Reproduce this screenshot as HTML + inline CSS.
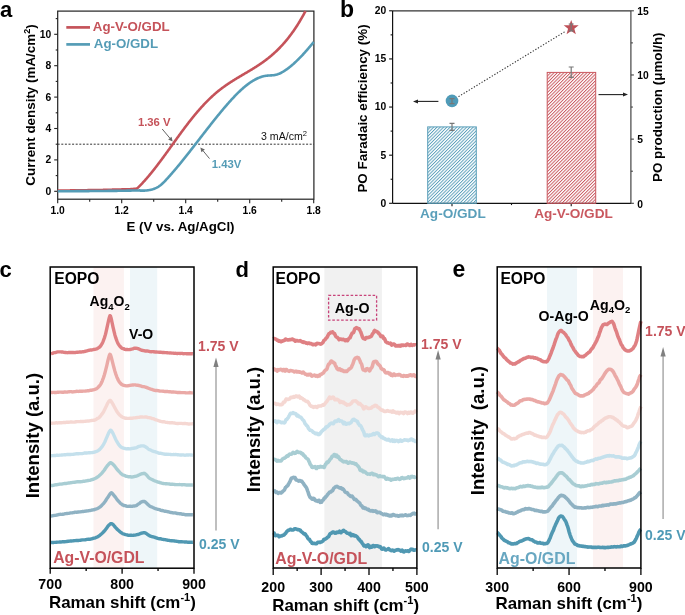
<!DOCTYPE html>
<html><head><meta charset="utf-8"><style>
html,body{margin:0;padding:0;background:#fff;width:685px;height:615px;overflow:hidden}
svg{display:block;will-change:transform}
text{font-family:"Liberation Sans",sans-serif}
</style></head><body>
<svg width="685" height="615" viewBox="0 0 685 615">
<rect width="685" height="615" fill="#fff"/>
<text x="-0.5" y="277" font-size="22" font-weight="bold" fill="#000" text-anchor="start" >c</text>
<rect x="93.5" y="267.0" width="30.4" height="301.20000000000005" fill="#fcf2f1"/>
<rect x="130" y="267.0" width="27.2" height="301.20000000000005" fill="#eef6f9"/>
<path d="M50.90,354.09 L51.40,353.76 L51.90,353.55 L52.40,353.33 L52.90,353.14 L53.40,352.92 L53.90,352.71 L54.40,352.67 L54.90,352.64 L55.40,352.65 L55.90,352.47 L56.40,352.27 L56.90,352.06 L57.40,351.94 L57.90,351.87 L58.40,351.85 L58.90,351.87 L59.40,351.87 L59.90,351.87 L60.40,351.86 L60.90,351.90 L61.40,351.95 L61.90,351.97 L62.40,351.99 L62.90,352.09 L63.40,352.23 L63.90,352.36 L64.40,352.41 L64.90,352.45 L65.40,352.49 L65.90,352.53 L66.40,352.60 L66.90,352.65 L67.40,352.69 L67.90,352.62 L68.40,352.55 L68.90,352.45 L69.40,352.46 L69.90,352.42 L70.40,352.46 L70.90,352.49 L71.40,352.51 L71.90,352.48 L72.40,352.43 L72.90,352.46 L73.40,352.52 L73.90,352.58 L74.40,352.57 L74.90,352.53 L75.40,352.45 L75.90,352.37 L76.40,352.32 L76.90,352.32 L77.40,352.30 L77.90,352.24 L78.40,352.13 L78.90,352.07 L79.40,352.03 L79.90,352.05 L80.40,352.03 L80.90,351.97 L81.40,351.94 L81.90,351.88 L82.40,351.84 L82.90,351.72 L83.40,351.71 L83.90,351.65 L84.40,351.55 L84.90,351.35 L85.40,351.21 L85.90,351.13 L86.40,351.04 L86.90,350.92 L87.40,350.71 L87.90,350.59 L88.40,350.44 L88.90,350.37 L89.40,350.18 L89.90,350.05 L90.40,349.94 L90.90,349.97 L91.40,349.96 L91.90,349.93 L92.40,349.83 L92.90,349.71 L93.40,349.55 L93.90,349.47 L94.40,349.39 L94.90,349.33 L95.40,349.17 L95.90,349.04 L96.40,348.91 L96.90,348.76 L97.40,348.50 L97.90,348.16 L98.40,347.85 L98.90,347.58 L99.40,347.28 L99.90,346.81 L100.40,346.21 L100.90,345.50 L101.40,344.76 L101.90,343.90 L102.40,342.95 L102.90,341.83 L103.40,340.63 L103.90,339.28 L104.40,337.87 L104.90,336.31 L105.40,334.63 L105.90,332.64 L106.40,330.47 L106.90,328.11 L107.40,325.82 L107.90,323.49 L108.40,321.27 L108.90,319.10 L109.40,317.21 L109.90,315.70 L110.40,315.88 L110.90,317.44 L111.40,319.48 L111.90,321.81 L112.40,324.19 L112.90,326.55 L113.40,328.74 L113.90,330.90 L114.40,332.94 L114.90,334.91 L115.40,336.64 L115.90,338.20 L116.40,339.53 L116.90,340.85 L117.40,342.07 L117.90,343.21 L118.40,344.14 L118.90,344.93 L119.40,345.60 L119.90,346.21 L120.40,346.74 L120.90,347.28 L121.40,347.77 L121.90,348.19 L122.40,348.40 L122.90,348.53 L123.40,348.66 L123.90,348.89 L124.40,349.14 L124.90,349.34 L125.40,349.46 L125.90,349.53 L126.40,349.55 L126.90,349.56 L127.40,349.56 L127.90,349.61 L128.40,349.66 L128.90,349.65 L129.40,349.59 L129.90,349.52 L130.40,349.45 L130.90,349.35 L131.40,349.21 L131.90,349.06 L132.40,348.95 L132.90,348.78 L133.40,348.60 L133.90,348.35 L134.40,348.24 L134.90,348.15 L135.40,348.18 L135.90,348.22 L136.40,348.30 L136.90,348.40 L137.40,348.49 L137.90,348.62 L138.40,348.75 L138.90,348.93 L139.40,349.18 L139.90,349.45 L140.40,349.79 L140.90,350.03 L141.40,350.22 L141.90,350.28 L142.40,350.38 L142.90,350.47 L143.40,350.58 L143.90,350.65 L144.40,350.77 L144.90,350.86 L145.40,350.99 L145.90,351.01 L146.40,351.05 L146.90,351.03 L147.40,351.03 L147.90,351.07 L148.40,351.18 L148.90,351.33 L149.40,351.47 L149.90,351.58 L150.40,351.66 L150.90,351.72 L151.40,351.72 L151.90,351.67 L152.40,351.65 L152.90,351.63 L153.40,351.70 L153.90,351.75 L154.40,351.89 L154.90,351.96 L155.40,352.03 L155.90,352.02 L156.40,352.02 L156.90,352.05 L157.40,352.08 L157.90,352.14 L158.40,352.18 L158.90,352.21 L159.40,352.23 L159.90,352.20 L160.40,352.21 L160.90,352.20 L161.40,352.30 L161.90,352.42 L162.40,352.54 L162.90,352.57 L163.40,352.54 L163.90,352.54 L164.40,352.57 L164.90,352.62 L165.40,352.64 L165.90,352.63 L166.40,352.64 L166.90,352.70 L167.40,352.76 L167.90,352.82 L168.40,352.86 L168.90,352.92 L169.40,352.94 L169.90,352.92 L170.40,352.92 L170.90,352.99 L171.40,353.09 L171.90,353.16 L172.40,353.13 L172.90,353.08 L173.40,353.11 L173.90,353.22 L174.40,353.33 L174.90,353.33 L175.40,353.31 L175.90,353.35 L176.40,353.39 L176.90,353.45 L177.40,353.42 L177.90,353.43 L178.40,353.38 L178.90,353.42 L179.40,353.41 L179.90,353.47 L180.40,353.44 L180.90,353.41 L181.40,353.36 L181.90,353.42 L182.40,353.52 L182.90,353.62 L183.40,353.68 L183.90,353.69 L184.40,353.67 L184.90,353.66 L185.40,353.66 L185.90,353.66 L186.40,353.68 L186.90,353.71 L187.40,353.72 L187.90,353.71 L188.40,353.72 L188.90,353.75 L189.40,353.79 L189.90,353.73 L190.40,353.71 L190.90,353.67 L191.40,353.68 L191.90,353.66 L192.40,353.71 L192.90,353.75" fill="none" stroke="#df8083" stroke-width="3.4" stroke-linejoin="round" stroke-linecap="butt"/>
<path d="M50.90,392.52 L51.40,392.57 L51.90,392.55 L52.40,392.47 L52.90,392.39 L53.40,392.37 L53.90,392.41 L54.40,392.50 L54.90,392.51 L55.40,392.55 L55.90,392.50 L56.40,392.44 L56.90,392.31 L57.40,392.21 L57.90,392.19 L58.40,392.19 L58.90,392.18 L59.40,392.16 L59.90,392.15 L60.40,392.12 L60.90,392.10 L61.40,392.12 L61.90,392.20 L62.40,392.26 L62.90,392.30 L63.40,392.26 L63.90,392.14 L64.40,392.01 L64.90,391.97 L65.40,392.03 L65.90,392.10 L66.40,392.10 L66.90,392.06 L67.40,391.98 L67.90,391.94 L68.40,391.86 L68.90,391.78 L69.40,391.69 L69.90,391.64 L70.40,391.63 L70.90,391.65 L71.40,391.69 L71.90,391.80 L72.40,391.88 L72.90,391.94 L73.40,391.86 L73.90,391.76 L74.40,391.67 L74.90,391.64 L75.40,391.59 L75.90,391.49 L76.40,391.38 L76.90,391.29 L77.40,391.36 L77.90,391.40 L78.40,391.43 L78.90,391.36 L79.40,391.31 L79.90,391.30 L80.40,391.29 L80.90,391.31 L81.40,391.30 L81.90,391.26 L82.40,391.21 L82.90,391.15 L83.40,391.13 L83.90,391.08 L84.40,391.12 L84.90,391.13 L85.40,391.11 L85.90,390.99 L86.40,390.88 L86.90,390.83 L87.40,390.80 L87.90,390.80 L88.40,390.75 L88.90,390.71 L89.40,390.54 L89.90,390.38 L90.40,390.26 L90.90,390.26 L91.40,390.26 L91.90,390.15 L92.40,390.02 L92.90,389.89 L93.40,389.81 L93.90,389.69 L94.40,389.52 L94.90,389.38 L95.40,389.18 L95.90,388.98 L96.40,388.70 L96.90,388.42 L97.40,388.01 L97.90,387.55 L98.40,387.04 L98.90,386.52 L99.40,385.98 L99.90,385.34 L100.40,384.65 L100.90,383.82 L101.40,382.90 L101.90,381.76 L102.40,380.51 L102.90,379.17 L103.40,377.83 L103.90,376.39 L104.40,374.78 L104.90,373.00 L105.40,371.06 L105.90,369.10 L106.40,367.07 L106.90,365.04 L107.40,362.87 L107.90,360.70 L108.40,358.64 L108.90,356.84 L109.40,355.29 L109.90,354.19 L110.40,354.70 L110.90,356.09 L111.40,357.81 L111.90,359.69 L112.40,361.63 L112.90,363.62 L113.40,365.56 L113.90,367.49 L114.40,369.33 L114.90,371.18 L115.40,372.83 L115.90,374.38 L116.40,375.73 L116.90,377.07 L117.40,378.28 L117.90,379.39 L118.40,380.37 L118.90,381.22 L119.40,381.96 L119.90,382.60 L120.40,383.22 L120.90,383.78 L121.40,384.24 L121.90,384.57 L122.40,384.86 L122.90,385.09 L123.40,385.27 L123.90,385.37 L124.40,385.45 L124.90,385.55 L125.40,385.65 L125.90,385.76 L126.40,385.82 L126.90,385.88 L127.40,385.82 L127.90,385.78 L128.40,385.65 L128.90,385.57 L129.40,385.44 L129.90,385.39 L130.40,385.32 L130.90,385.23 L131.40,385.14 L131.90,385.06 L132.40,385.03 L132.90,385.00 L133.40,384.95 L133.90,384.91 L134.40,384.84 L134.90,384.85 L135.40,384.92 L135.90,385.08 L136.40,385.18 L136.90,385.23 L137.40,385.25 L137.90,385.29 L138.40,385.39 L138.90,385.51 L139.40,385.64 L139.90,385.73 L140.40,385.81 L140.90,385.95 L141.40,386.18 L141.90,386.43 L142.40,386.59 L142.90,386.58 L143.40,386.58 L143.90,386.62 L144.40,386.78 L144.90,386.95 L145.40,387.10 L145.90,387.26 L146.40,387.40 L146.90,387.60 L147.40,387.81 L147.90,388.06 L148.40,388.30 L148.90,388.47 L149.40,388.61 L149.90,388.77 L150.40,388.98 L150.90,389.17 L151.40,389.31 L151.90,389.45 L152.40,389.62 L152.90,389.78 L153.40,389.96 L153.90,390.12 L154.40,390.28 L154.90,390.37 L155.40,390.45 L155.90,390.51 L156.40,390.54 L156.90,390.56 L157.40,390.56 L157.90,390.67 L158.40,390.77 L158.90,390.90 L159.40,390.93 L159.90,391.01 L160.40,391.07 L160.90,391.14 L161.40,391.15 L161.90,391.14 L162.40,391.16 L162.90,391.20 L163.40,391.26 L163.90,391.36 L164.40,391.45 L164.90,391.51 L165.40,391.49 L165.90,391.51 L166.40,391.50 L166.90,391.52 L167.40,391.51 L167.90,391.56 L168.40,391.64 L168.90,391.72 L169.40,391.73 L169.90,391.74 L170.40,391.80 L170.90,391.92 L171.40,392.02 L171.90,392.06 L172.40,392.04 L172.90,392.01 L173.40,391.99 L173.90,392.03 L174.40,392.08 L174.90,392.13 L175.40,392.17 L175.90,392.24 L176.40,392.35 L176.90,392.43 L177.40,392.43 L177.90,392.44 L178.40,392.42 L178.90,392.46 L179.40,392.45 L179.90,392.54 L180.40,392.57 L180.90,392.63 L181.40,392.59 L181.90,392.61 L182.40,392.61 L182.90,392.63 L183.40,392.61 L183.90,392.58 L184.40,392.59 L184.90,392.65 L185.40,392.77 L185.90,392.84 L186.40,392.86 L186.90,392.84 L187.40,392.83 L187.90,392.90 L188.40,392.92 L188.90,392.81 L189.40,392.62 L189.90,392.55 L190.40,392.65 L190.90,392.81 L191.40,392.89 L191.90,392.89 L192.40,392.88 L192.90,392.86" fill="none" stroke="#eaa9a6" stroke-width="3.4" stroke-linejoin="round" stroke-linecap="butt"/>
<path d="M50.90,423.25 L51.40,423.26 L51.90,423.22 L52.40,423.16 L52.90,423.09 L53.40,423.08 L53.90,423.13 L54.40,423.18 L54.90,423.11 L55.40,422.94 L55.90,422.79 L56.40,422.79 L56.90,422.89 L57.40,422.95 L57.90,422.89 L58.40,422.80 L58.90,422.72 L59.40,422.74 L59.90,422.71 L60.40,422.73 L60.90,422.70 L61.40,422.73 L61.90,422.72 L62.40,422.68 L62.90,422.60 L63.40,422.51 L63.90,422.48 L64.40,422.49 L64.90,422.50 L65.40,422.47 L65.90,422.37 L66.40,422.27 L66.90,422.23 L67.40,422.23 L67.90,422.27 L68.40,422.26 L68.90,422.27 L69.40,422.19 L69.90,422.12 L70.40,422.05 L70.90,422.04 L71.40,422.04 L71.90,422.04 L72.40,422.10 L72.90,422.13 L73.40,422.15 L73.90,422.14 L74.40,422.12 L74.90,422.03 L75.40,421.88 L75.90,421.79 L76.40,421.69 L76.90,421.65 L77.40,421.58 L77.90,421.62 L78.40,421.61 L78.90,421.66 L79.40,421.63 L79.90,421.61 L80.40,421.55 L80.90,421.54 L81.40,421.55 L81.90,421.59 L82.40,421.56 L82.90,421.52 L83.40,421.46 L83.90,421.41 L84.40,421.39 L84.90,421.32 L85.40,421.31 L85.90,421.21 L86.40,421.14 L86.90,421.06 L87.40,421.06 L87.90,421.09 L88.40,421.06 L88.90,421.01 L89.40,420.90 L89.90,420.80 L90.40,420.68 L90.90,420.60 L91.40,420.54 L91.90,420.48 L92.40,420.42 L92.90,420.35 L93.40,420.30 L93.90,420.25 L94.40,420.20 L94.90,420.06 L95.40,419.83 L95.90,419.50 L96.40,419.16 L96.90,418.80 L97.40,418.48 L97.90,418.16 L98.40,417.92 L98.90,417.65 L99.40,417.28 L99.90,416.75 L100.40,416.10 L100.90,415.48 L101.40,414.81 L101.90,414.17 L102.40,413.47 L102.90,412.76 L103.40,412.00 L103.90,411.10 L104.40,410.10 L104.90,409.02 L105.40,408.00 L105.90,406.99 L106.40,405.97 L106.90,404.86 L107.40,403.80 L107.90,402.84 L108.40,402.06 L108.90,401.37 L109.40,400.77 L109.90,400.37 L110.40,400.49 L110.90,401.01 L111.40,401.70 L111.90,402.44 L112.40,403.25 L112.90,404.12 L113.40,405.11 L113.90,406.06 L114.40,406.98 L114.90,407.87 L115.40,408.74 L115.90,409.68 L116.40,410.61 L116.90,411.53 L117.40,412.30 L117.90,412.95 L118.40,413.52 L118.90,414.14 L119.40,414.72 L119.90,415.21 L120.40,415.61 L120.90,416.03 L121.40,416.48 L121.90,416.82 L122.40,417.12 L122.90,417.29 L123.40,417.50 L123.90,417.66 L124.40,417.91 L124.90,418.12 L125.40,418.23 L125.90,418.29 L126.40,418.29 L126.90,418.37 L127.40,418.38 L127.90,418.41 L128.40,418.41 L128.90,418.38 L129.40,418.35 L129.90,418.28 L130.40,418.25 L130.90,418.24 L131.40,418.26 L131.90,418.26 L132.40,418.20 L132.90,418.09 L133.40,417.97 L133.90,417.90 L134.40,417.87 L134.90,417.85 L135.40,417.79 L135.90,417.71 L136.40,417.62 L136.90,417.53 L137.40,417.47 L137.90,417.42 L138.40,417.39 L138.90,417.35 L139.40,417.23 L139.90,417.12 L140.40,416.99 L140.90,416.95 L141.40,416.91 L141.90,416.94 L142.40,417.00 L142.90,417.08 L143.40,417.14 L143.90,417.12 L144.40,417.09 L144.90,417.02 L145.40,416.96 L145.90,416.94 L146.40,417.02 L146.90,417.20 L147.40,417.37 L147.90,417.50 L148.40,417.57 L148.90,417.66 L149.40,417.69 L149.90,417.75 L150.40,417.82 L150.90,418.03 L151.40,418.27 L151.90,418.50 L152.40,418.60 L152.90,418.69 L153.40,418.79 L153.90,418.96 L154.40,419.15 L154.90,419.41 L155.40,419.66 L155.90,419.85 L156.40,419.95 L156.90,420.05 L157.40,420.24 L157.90,420.48 L158.40,420.68 L158.90,420.80 L159.40,420.96 L159.90,421.13 L160.40,421.31 L160.90,421.43 L161.40,421.54 L161.90,421.67 L162.40,421.74 L162.90,421.74 L163.40,421.70 L163.90,421.70 L164.40,421.84 L164.90,422.01 L165.40,422.20 L165.90,422.32 L166.40,422.38 L166.90,422.42 L167.40,422.46 L167.90,422.54 L168.40,422.59 L168.90,422.67 L169.40,422.74 L169.90,422.79 L170.40,422.83 L170.90,422.80 L171.40,422.81 L171.90,422.75 L172.40,422.78 L172.90,422.81 L173.40,422.90 L173.90,422.93 L174.40,423.00 L174.90,423.09 L175.40,423.24 L175.90,423.36 L176.40,423.42 L176.90,423.48 L177.40,423.50 L177.90,423.49 L178.40,423.43 L178.90,423.40 L179.40,423.42 L179.90,423.41 L180.40,423.37 L180.90,423.34 L181.40,423.35 L181.90,423.45 L182.40,423.56 L182.90,423.66 L183.40,423.62 L183.90,423.54 L184.40,423.46 L184.90,423.48 L185.40,423.54 L185.90,423.63 L186.40,423.67 L186.90,423.72 L187.40,423.79 L187.90,423.91 L188.40,424.00 L188.90,424.04 L189.40,423.98 L189.90,423.93 L190.40,423.86 L190.90,423.87 L191.40,423.83 L191.90,423.83 L192.40,423.78 L192.90,423.80" fill="none" stroke="#f5d7d2" stroke-width="3.4" stroke-linejoin="round" stroke-linecap="butt"/>
<path d="M50.90,455.79 L51.40,455.72 L51.90,455.63 L52.40,455.61 L52.90,455.60 L53.40,455.60 L53.90,455.54 L54.40,455.55 L54.90,455.56 L55.40,455.56 L55.90,455.43 L56.40,455.28 L56.90,455.21 L57.40,455.28 L57.90,455.37 L58.40,455.36 L58.90,455.27 L59.40,455.16 L59.90,455.10 L60.40,455.12 L60.90,455.10 L61.40,455.06 L61.90,454.95 L62.40,454.93 L62.90,454.90 L63.40,454.90 L63.90,454.81 L64.40,454.78 L64.90,454.77 L65.40,454.78 L65.90,454.71 L66.40,454.59 L66.90,454.53 L67.40,454.50 L67.90,454.50 L68.40,454.43 L68.90,454.44 L69.40,454.47 L69.90,454.51 L70.40,454.48 L70.90,454.46 L71.40,454.42 L71.90,454.41 L72.40,454.36 L72.90,454.36 L73.40,454.28 L73.90,454.22 L74.40,454.08 L74.90,453.99 L75.40,453.87 L75.90,453.82 L76.40,453.82 L76.90,453.80 L77.40,453.82 L77.90,453.79 L78.40,453.79 L78.90,453.71 L79.40,453.66 L79.90,453.61 L80.40,453.61 L80.90,453.61 L81.40,453.64 L81.90,453.65 L82.40,453.57 L82.90,453.45 L83.40,453.31 L83.90,453.18 L84.40,453.02 L84.90,452.90 L85.40,452.95 L85.90,453.04 L86.40,453.12 L86.90,453.03 L87.40,452.93 L87.90,452.83 L88.40,452.81 L88.90,452.76 L89.40,452.73 L89.90,452.70 L90.40,452.68 L90.90,452.67 L91.40,452.67 L91.90,452.62 L92.40,452.57 L92.90,452.44 L93.40,452.41 L93.90,452.26 L94.40,452.14 L94.90,451.92 L95.40,451.77 L95.90,451.61 L96.40,451.47 L96.90,451.25 L97.40,450.97 L97.90,450.66 L98.40,450.37 L98.90,450.06 L99.40,449.68 L99.90,449.20 L100.40,448.65 L100.90,448.05 L101.40,447.45 L101.90,446.82 L102.40,446.17 L102.90,445.37 L103.40,444.53 L103.90,443.63 L104.40,442.73 L104.90,441.71 L105.40,440.55 L105.90,439.38 L106.40,438.20 L106.90,437.07 L107.40,435.88 L107.90,434.69 L108.40,433.58 L108.90,432.54 L109.40,431.61 L109.90,430.80 L110.40,430.26 L110.90,430.28 L111.40,430.75 L111.90,431.48 L112.40,432.35 L112.90,433.34 L113.40,434.31 L113.90,435.36 L114.40,436.44 L114.90,437.61 L115.40,438.74 L115.90,439.75 L116.40,440.68 L116.90,441.52 L117.40,442.39 L117.90,443.23 L118.40,444.00 L118.90,444.74 L119.40,445.36 L119.90,446.01 L120.40,446.47 L120.90,446.95 L121.40,447.31 L121.90,447.59 L122.40,447.74 L122.90,447.87 L123.40,448.08 L123.90,448.30 L124.40,448.41 L124.90,448.49 L125.40,448.59 L125.90,448.76 L126.40,448.84 L126.90,448.85 L127.40,448.81 L127.90,448.78 L128.40,448.77 L128.90,448.78 L129.40,448.83 L129.90,448.85 L130.40,448.81 L130.90,448.71 L131.40,448.59 L131.90,448.47 L132.40,448.39 L132.90,448.31 L133.40,448.28 L133.90,448.22 L134.40,448.13 L134.90,448.02 L135.40,447.90 L135.90,447.79 L136.40,447.63 L136.90,447.44 L137.40,447.16 L137.90,446.87 L138.40,446.60 L138.90,446.44 L139.40,446.32 L139.90,446.23 L140.40,446.07 L140.90,445.94 L141.40,445.88 L141.90,445.88 L142.40,445.87 L142.90,445.85 L143.40,445.89 L143.90,446.02 L144.40,446.25 L144.90,446.54 L145.40,446.84 L145.90,447.12 L146.40,447.38 L146.90,447.69 L147.40,448.11 L147.90,448.62 L148.40,449.09 L148.90,449.40 L149.40,449.59 L149.90,449.79 L150.40,450.01 L150.90,450.25 L151.40,450.44 L151.90,450.69 L152.40,450.92 L152.90,451.17 L153.40,451.33 L153.90,451.48 L154.40,451.59 L154.90,451.69 L155.40,451.85 L155.90,452.03 L156.40,452.20 L156.90,452.32 L157.40,452.50 L157.90,452.76 L158.40,453.03 L158.90,453.19 L159.40,453.22 L159.90,453.21 L160.40,453.27 L160.90,453.35 L161.40,453.47 L161.90,453.55 L162.40,453.69 L162.90,453.80 L163.40,453.92 L163.90,454.03 L164.40,454.14 L164.90,454.22 L165.40,454.28 L165.90,454.30 L166.40,454.30 L166.90,454.30 L167.40,454.31 L167.90,454.33 L168.40,454.32 L168.90,454.33 L169.40,454.36 L169.90,454.42 L170.40,454.50 L170.90,454.54 L171.40,454.58 L171.90,454.61 L172.40,454.61 L172.90,454.57 L173.40,454.52 L173.90,454.55 L174.40,454.61 L174.90,454.60 L175.40,454.54 L175.90,454.52 L176.40,454.60 L176.90,454.68 L177.40,454.78 L177.90,454.80 L178.40,454.82 L178.90,454.85 L179.40,454.92 L179.90,455.00 L180.40,455.01 L180.90,455.06 L181.40,455.05 L181.90,455.02 L182.40,454.92 L182.90,454.87 L183.40,454.92 L183.90,455.04 L184.40,455.15 L184.90,455.22 L185.40,455.19 L185.90,455.12 L186.40,455.02 L186.90,454.99 L187.40,455.03 L187.90,455.05 L188.40,455.03 L188.90,454.94 L189.40,454.92 L189.90,454.92 L190.40,454.98 L190.90,455.00 L191.40,455.06 L191.90,455.13 L192.40,455.18 L192.90,455.21" fill="none" stroke="#c4e0ec" stroke-width="3.4" stroke-linejoin="round" stroke-linecap="butt"/>
<path d="M50.90,485.44 L51.40,485.39 L51.90,485.47 L52.40,485.51 L52.90,485.48 L53.40,485.34 L53.90,485.18 L54.40,485.02 L54.90,484.89 L55.40,484.81 L55.90,484.82 L56.40,484.77 L56.90,484.71 L57.40,484.57 L57.90,484.50 L58.40,484.42 L58.90,484.29 L59.40,484.15 L59.90,484.07 L60.40,484.10 L60.90,484.15 L61.40,484.10 L61.90,484.02 L62.40,483.90 L62.90,483.83 L63.40,483.71 L63.90,483.60 L64.40,483.55 L64.90,483.54 L65.40,483.53 L65.90,483.50 L66.40,483.44 L66.90,483.33 L67.40,483.19 L67.90,483.09 L68.40,483.05 L68.90,483.02 L69.40,482.95 L69.90,482.86 L70.40,482.78 L70.90,482.74 L71.40,482.65 L71.90,482.57 L72.40,482.44 L72.90,482.37 L73.40,482.34 L73.90,482.32 L74.40,482.29 L74.90,482.21 L75.40,482.13 L75.90,482.02 L76.40,481.90 L76.90,481.78 L77.40,481.71 L77.90,481.70 L78.40,481.73 L78.90,481.76 L79.40,481.80 L79.90,481.80 L80.40,481.78 L80.90,481.71 L81.40,481.63 L81.90,481.56 L82.40,481.46 L82.90,481.36 L83.40,481.28 L83.90,481.25 L84.40,481.20 L84.90,481.15 L85.40,481.04 L85.90,480.96 L86.40,480.83 L86.90,480.76 L87.40,480.63 L87.90,480.54 L88.40,480.44 L88.90,480.43 L89.40,480.39 L89.90,480.31 L90.40,480.15 L90.90,479.96 L91.40,479.77 L91.90,479.61 L92.40,479.49 L92.90,479.38 L93.40,479.25 L93.90,479.02 L94.40,478.79 L94.90,478.49 L95.40,478.29 L95.90,478.07 L96.40,477.81 L96.90,477.44 L97.40,477.06 L97.90,476.73 L98.40,476.35 L98.90,475.93 L99.40,475.47 L99.90,475.06 L100.40,474.61 L100.90,474.17 L101.40,473.64 L101.90,473.12 L102.40,472.49 L102.90,471.86 L103.40,471.24 L103.90,470.65 L104.40,470.03 L104.90,469.27 L105.40,468.46 L105.90,467.67 L106.40,466.96 L106.90,466.29 L107.40,465.69 L107.90,465.08 L108.40,464.53 L108.90,463.97 L109.40,463.45 L109.90,463.00 L110.40,462.67 L110.90,462.69 L111.40,462.97 L111.90,463.36 L112.40,463.78 L112.90,464.24 L113.40,464.72 L113.90,465.22 L114.40,465.79 L114.90,466.42 L115.40,467.12 L115.90,467.79 L116.40,468.49 L116.90,469.16 L117.40,469.78 L117.90,470.30 L118.40,470.80 L118.90,471.33 L119.40,471.87 L119.90,472.42 L120.40,472.92 L120.90,473.39 L121.40,473.86 L121.90,474.30 L122.40,474.65 L122.90,474.91 L123.40,475.07 L123.90,475.26 L124.40,475.45 L124.90,475.67 L125.40,475.89 L125.90,476.10 L126.40,476.28 L126.90,476.41 L127.40,476.49 L127.90,476.59 L128.40,476.72 L128.90,476.81 L129.40,476.80 L129.90,476.73 L130.40,476.76 L130.90,476.86 L131.40,476.99 L131.90,477.00 L132.40,476.95 L132.90,476.86 L133.40,476.76 L133.90,476.66 L134.40,476.54 L134.90,476.44 L135.40,476.33 L135.90,476.22 L136.40,476.07 L136.90,475.94 L137.40,475.74 L137.90,475.51 L138.40,475.22 L138.90,475.00 L139.40,474.78 L139.90,474.52 L140.40,474.26 L140.90,474.04 L141.40,473.88 L141.90,473.75 L142.40,473.64 L142.90,473.56 L143.40,473.41 L143.90,473.29 L144.40,473.34 L144.90,473.62 L145.40,474.02 L145.90,474.41 L146.40,474.86 L146.90,475.40 L147.40,476.02 L147.90,476.65 L148.40,477.19 L148.90,477.70 L149.40,478.12 L149.90,478.51 L150.40,478.77 L150.90,479.02 L151.40,479.23 L151.90,479.45 L152.40,479.68 L152.90,479.91 L153.40,480.20 L153.90,480.48 L154.40,480.74 L154.90,480.92 L155.40,481.08 L155.90,481.25 L156.40,481.44 L156.90,481.67 L157.40,481.87 L157.90,482.04 L158.40,482.12 L158.90,482.26 L159.40,482.40 L159.90,482.64 L160.40,482.79 L160.90,482.94 L161.40,483.04 L161.90,483.21 L162.40,483.34 L162.90,483.46 L163.40,483.50 L163.90,483.57 L164.40,483.61 L164.90,483.66 L165.40,483.71 L165.90,483.73 L166.40,483.77 L166.90,483.80 L167.40,483.87 L167.90,483.91 L168.40,483.92 L168.90,483.93 L169.40,484.02 L169.90,484.13 L170.40,484.25 L170.90,484.29 L171.40,484.30 L171.90,484.26 L172.40,484.23 L172.90,484.26 L173.40,484.32 L173.90,484.41 L174.40,484.45 L174.90,484.52 L175.40,484.58 L175.90,484.66 L176.40,484.67 L176.90,484.66 L177.40,484.63 L177.90,484.63 L178.40,484.59 L178.90,484.59 L179.40,484.56 L179.90,484.62 L180.40,484.61 L180.90,484.67 L181.40,484.69 L181.90,484.72 L182.40,484.71 L182.90,484.70 L183.40,484.67 L183.90,484.67 L184.40,484.67 L184.90,484.76 L185.40,484.86 L185.90,484.94 L186.40,484.99 L186.90,484.99 L187.40,484.94 L187.90,484.94 L188.40,484.98 L188.90,485.05 L189.40,485.05 L189.90,485.04 L190.40,485.01 L190.90,485.02 L191.40,485.02 L191.90,484.99 L192.40,484.96 L192.90,484.94" fill="none" stroke="#a8cdd3" stroke-width="3.4" stroke-linejoin="round" stroke-linecap="butt"/>
<path d="M50.90,515.96 L51.40,515.94 L51.90,515.91 L52.40,515.83 L52.90,515.70 L53.40,515.59 L53.90,515.50 L54.40,515.42 L54.90,515.33 L55.40,515.33 L55.90,515.28 L56.40,515.18 L56.90,515.00 L57.40,514.85 L57.90,514.75 L58.40,514.63 L58.90,514.54 L59.40,514.41 L59.90,514.35 L60.40,514.31 L60.90,514.35 L61.40,514.38 L61.90,514.35 L62.40,514.28 L62.90,514.20 L63.40,514.18 L63.90,514.07 L64.40,513.96 L64.90,513.77 L65.40,513.69 L65.90,513.60 L66.40,513.57 L66.90,513.49 L67.40,513.44 L67.90,513.42 L68.40,513.42 L68.90,513.35 L69.40,513.22 L69.90,513.04 L70.40,512.93 L70.90,512.88 L71.40,512.91 L71.90,512.92 L72.40,512.83 L72.90,512.71 L73.40,512.58 L73.90,512.50 L74.40,512.36 L74.90,512.22 L75.40,512.13 L75.90,512.16 L76.40,512.20 L76.90,512.22 L77.40,512.11 L77.90,512.03 L78.40,511.96 L78.90,511.96 L79.40,511.90 L79.90,511.89 L80.40,511.85 L80.90,511.82 L81.40,511.71 L81.90,511.60 L82.40,511.54 L82.90,511.49 L83.40,511.48 L83.90,511.43 L84.40,511.39 L84.90,511.26 L85.40,511.15 L85.90,511.03 L86.40,510.98 L86.90,510.94 L87.40,510.90 L87.90,510.81 L88.40,510.71 L88.90,510.63 L89.40,510.57 L89.90,510.50 L90.40,510.45 L90.90,510.34 L91.40,510.20 L91.90,510.02 L92.40,509.97 L92.90,509.93 L93.40,509.90 L93.90,509.75 L94.40,509.60 L94.90,509.39 L95.40,509.22 L95.90,509.05 L96.40,508.92 L96.90,508.75 L97.40,508.55 L97.90,508.27 L98.40,507.97 L98.90,507.64 L99.40,507.34 L99.90,507.04 L100.40,506.66 L100.90,506.22 L101.40,505.69 L101.90,505.20 L102.40,504.67 L102.90,504.14 L103.40,503.57 L103.90,503.01 L104.40,502.41 L104.90,501.77 L105.40,501.06 L105.90,500.29 L106.40,499.45 L106.90,498.62 L107.40,497.86 L107.90,497.19 L108.40,496.48 L108.90,495.69 L109.40,494.86 L109.90,494.12 L110.40,493.49 L110.90,493.06 L111.40,492.79 L111.90,493.05 L112.40,493.48 L112.90,494.10 L113.40,494.74 L113.90,495.39 L114.40,495.96 L114.90,496.56 L115.40,497.16 L115.90,497.89 L116.40,498.61 L116.90,499.33 L117.40,499.95 L117.90,500.53 L118.40,501.06 L118.90,501.62 L119.40,502.18 L119.90,502.74 L120.40,503.22 L120.90,503.62 L121.40,503.99 L121.90,504.35 L122.40,504.75 L122.90,505.10 L123.40,505.37 L123.90,505.50 L124.40,505.56 L124.90,505.63 L125.40,505.72 L125.90,505.87 L126.40,506.07 L126.90,506.25 L127.40,506.38 L127.90,506.37 L128.40,506.36 L128.90,506.30 L129.40,506.28 L129.90,506.25 L130.40,506.27 L130.90,506.31 L131.40,506.33 L131.90,506.28 L132.40,506.21 L132.90,506.13 L133.40,506.10 L133.90,506.02 L134.40,505.96 L134.90,505.86 L135.40,505.82 L135.90,505.71 L136.40,505.54 L136.90,505.23 L137.40,504.81 L137.90,504.36 L138.40,503.98 L138.90,503.73 L139.40,503.44 L139.90,503.05 L140.40,502.57 L140.90,502.20 L141.40,501.93 L141.90,501.76 L142.40,501.62 L142.90,501.51 L143.40,501.43 L143.90,501.42 L144.40,501.50 L144.90,501.76 L145.40,502.10 L145.90,502.54 L146.40,502.96 L146.90,503.46 L147.40,503.99 L147.90,504.48 L148.40,504.93 L148.90,505.32 L149.40,505.76 L149.90,506.13 L150.40,506.46 L150.90,506.66 L151.40,506.84 L151.90,507.01 L152.40,507.24 L152.90,507.50 L153.40,507.74 L153.90,507.99 L154.40,508.24 L154.90,508.46 L155.40,508.64 L155.90,508.75 L156.40,508.92 L156.90,509.04 L157.40,509.21 L157.90,509.31 L158.40,509.44 L158.90,509.52 L159.40,509.67 L159.90,509.85 L160.40,510.11 L160.90,510.32 L161.40,510.46 L161.90,510.51 L162.40,510.55 L162.90,510.63 L163.40,510.82 L163.90,511.01 L164.40,511.18 L164.90,511.29 L165.40,511.28 L165.90,511.30 L166.40,511.33 L166.90,511.49 L167.40,511.62 L167.90,511.72 L168.40,511.80 L168.90,511.91 L169.40,512.08 L169.90,512.28 L170.40,512.42 L170.90,512.52 L171.40,512.56 L171.90,512.67 L172.40,512.76 L172.90,512.88 L173.40,512.90 L173.90,512.94 L174.40,512.89 L174.90,512.86 L175.40,512.88 L175.90,513.05 L176.40,513.30 L176.90,513.46 L177.40,513.51 L177.90,513.52 L178.40,513.61 L178.90,513.67 L179.40,513.75 L179.90,513.69 L180.40,513.72 L180.90,513.76 L181.40,513.99 L181.90,514.11 L182.40,514.22 L182.90,514.19 L183.40,514.25 L183.90,514.33 L184.40,514.49 L184.90,514.66 L185.40,514.72 L185.90,514.71 L186.40,514.66 L186.90,514.69 L187.40,514.74 L187.90,514.77 L188.40,514.74 L188.90,514.71 L189.40,514.72 L189.90,514.76 L190.40,514.80 L190.90,514.80 L191.40,514.78 L191.90,514.76 L192.40,514.74 L192.90,514.75" fill="none" stroke="#8fb2c3" stroke-width="3.4" stroke-linejoin="round" stroke-linecap="butt"/>
<path d="M50.90,542.62 L51.40,542.55 L51.90,542.50 L52.40,542.50 L52.90,542.50 L53.40,542.46 L53.90,542.43 L54.40,542.38 L54.90,542.41 L55.40,542.34 L55.90,542.29 L56.40,542.22 L56.90,542.19 L57.40,542.14 L57.90,542.12 L58.40,542.08 L58.90,542.09 L59.40,542.05 L59.90,542.04 L60.40,542.02 L60.90,542.00 L61.40,541.95 L61.90,541.85 L62.40,541.77 L62.90,541.73 L63.40,541.72 L63.90,541.75 L64.40,541.76 L64.90,541.77 L65.40,541.68 L65.90,541.61 L66.40,541.52 L66.90,541.48 L67.40,541.35 L67.90,541.25 L68.40,541.20 L68.90,541.20 L69.40,541.15 L69.90,541.07 L70.40,541.05 L70.90,541.05 L71.40,541.03 L71.90,540.94 L72.40,540.89 L72.90,540.86 L73.40,540.80 L73.90,540.71 L74.40,540.62 L74.90,540.59 L75.40,540.58 L75.90,540.55 L76.40,540.52 L76.90,540.53 L77.40,540.56 L77.90,540.53 L78.40,540.49 L78.90,540.40 L79.40,540.39 L79.90,540.32 L80.40,540.29 L80.90,540.15 L81.40,540.04 L81.90,539.94 L82.40,539.90 L82.90,539.86 L83.40,539.85 L83.90,539.86 L84.40,539.87 L84.90,539.87 L85.40,539.78 L85.90,539.68 L86.40,539.52 L86.90,539.43 L87.40,539.34 L87.90,539.29 L88.40,539.23 L88.90,539.24 L89.40,539.31 L89.90,539.31 L90.40,539.19 L90.90,538.99 L91.40,538.88 L91.90,538.77 L92.40,538.63 L92.90,538.41 L93.40,538.23 L93.90,538.11 L94.40,538.08 L94.90,538.02 L95.40,537.81 L95.90,537.53 L96.40,537.25 L96.90,537.08 L97.40,536.88 L97.90,536.64 L98.40,536.33 L98.90,536.01 L99.40,535.61 L99.90,535.17 L100.40,534.71 L100.90,534.31 L101.40,533.93 L101.90,533.53 L102.40,533.09 L102.90,532.57 L103.40,532.04 L103.90,531.51 L104.40,531.00 L104.90,530.41 L105.40,529.76 L105.90,529.07 L106.40,528.41 L106.90,527.73 L107.40,527.02 L107.90,526.30 L108.40,525.66 L108.90,525.13 L109.40,524.68 L109.90,524.26 L110.40,523.87 L110.90,523.62 L111.40,523.64 L111.90,523.84 L112.40,524.09 L112.90,524.45 L113.40,524.89 L113.90,525.49 L114.40,526.12 L114.90,526.78 L115.40,527.31 L115.90,527.83 L116.40,528.40 L116.90,529.01 L117.40,529.55 L117.90,529.97 L118.40,530.34 L118.90,530.73 L119.40,531.18 L119.90,531.66 L120.40,532.08 L120.90,532.47 L121.40,532.75 L121.90,533.10 L122.40,533.44 L122.90,533.75 L123.40,533.96 L123.90,534.07 L124.40,534.22 L124.90,534.40 L125.40,534.56 L125.90,534.70 L126.40,534.80 L126.90,534.90 L127.40,534.99 L127.90,535.13 L128.40,535.30 L128.90,535.39 L129.40,535.36 L129.90,535.25 L130.40,535.17 L130.90,535.15 L131.40,535.22 L131.90,535.31 L132.40,535.38 L132.90,535.35 L133.40,535.25 L133.90,535.19 L134.40,535.14 L134.90,535.15 L135.40,535.05 L135.90,534.95 L136.40,534.76 L136.90,534.66 L137.40,534.54 L137.90,534.53 L138.40,534.42 L138.90,534.25 L139.40,533.94 L139.90,533.71 L140.40,533.53 L140.90,533.35 L141.40,533.16 L141.90,532.99 L142.40,532.95 L142.90,532.87 L143.40,532.81 L143.90,532.70 L144.40,532.70 L144.90,532.77 L145.40,532.98 L145.90,533.25 L146.40,533.58 L146.90,533.90 L147.40,534.28 L147.90,534.67 L148.40,535.03 L148.90,535.36 L149.40,535.63 L149.90,535.88 L150.40,536.10 L150.90,536.34 L151.40,536.54 L151.90,536.64 L152.40,536.70 L152.90,536.78 L153.40,536.92 L153.90,537.05 L154.40,537.18 L154.90,537.37 L155.40,537.56 L155.90,537.80 L156.40,537.95 L156.90,538.15 L157.40,538.26 L157.90,538.43 L158.40,538.57 L158.90,538.69 L159.40,538.72 L159.90,538.73 L160.40,538.74 L160.90,538.85 L161.40,539.00 L161.90,539.19 L162.40,539.35 L162.90,539.42 L163.40,539.46 L163.90,539.50 L164.40,539.57 L164.90,539.66 L165.40,539.71 L165.90,539.81 L166.40,539.88 L166.90,540.02 L167.40,540.13 L167.90,540.27 L168.40,540.34 L168.90,540.38 L169.40,540.44 L169.90,540.56 L170.40,540.67 L170.90,540.73 L171.40,540.78 L171.90,540.79 L172.40,540.83 L172.90,540.80 L173.40,540.88 L173.90,540.93 L174.40,541.05 L174.90,541.05 L175.40,541.08 L175.90,541.12 L176.40,541.27 L176.90,541.37 L177.40,541.43 L177.90,541.48 L178.40,541.60 L178.90,541.76 L179.40,541.80 L179.90,541.70 L180.40,541.62 L180.90,541.62 L181.40,541.72 L181.90,541.77 L182.40,541.81 L182.90,541.83 L183.40,541.85 L183.90,541.90 L184.40,541.96 L184.90,542.01 L185.40,542.01 L185.90,541.96 L186.40,541.95 L186.90,542.04 L187.40,542.18 L187.90,542.30 L188.40,542.31 L188.90,542.27 L189.40,542.21 L189.90,542.23 L190.40,542.25 L190.90,542.33 L191.40,542.32 L191.90,542.30 L192.40,542.24 L192.90,542.21" fill="none" stroke="#5098b2" stroke-width="3.4" stroke-linejoin="round" stroke-linecap="butt"/>
<rect x="50.2" y="267.0" width="143.8" height="301.20000000000005" fill="none" stroke="#000" stroke-width="1.5"/>
<line x1="50.20" y1="568.2" x2="50.20" y2="573.7" stroke="#000" stroke-width="1.3"/>
<text x="50.20" y="589.3" font-size="14.2" font-weight="bold" fill="#000" text-anchor="middle" >700</text>
<line x1="86.15" y1="568.2" x2="86.15" y2="571.0" stroke="#000" stroke-width="1.3"/>
<line x1="122.10" y1="568.2" x2="122.10" y2="573.7" stroke="#000" stroke-width="1.3"/>
<text x="122.10" y="589.3" font-size="14.2" font-weight="bold" fill="#000" text-anchor="middle" >800</text>
<line x1="158.05" y1="568.2" x2="158.05" y2="571.0" stroke="#000" stroke-width="1.3"/>
<line x1="194.00" y1="568.2" x2="194.00" y2="573.7" stroke="#000" stroke-width="1.3"/>
<text x="194.00" y="589.3" font-size="14.2" font-weight="bold" fill="#000" text-anchor="middle" >900</text>
<text x="122.4" y="608.2" font-size="16.9" font-weight="bold" text-anchor="middle">Raman shift (cm<tspan dy="-7" font-size="11">-1</tspan><tspan dy="7">)</tspan></text>
<text x="54.3" y="283.9" font-size="15.6" font-weight="bold" fill="#000" text-anchor="start" >EOPO</text>
<text x="89.6" y="306" font-size="14" font-weight="bold">Ag<tspan dy="3.5" font-size="9.5">4</tspan><tspan dy="-3.5">O</tspan><tspan dy="3.5" font-size="9.5">2</tspan></text>
<text x="129.1" y="338.8" font-size="14" font-weight="bold" fill="#000" text-anchor="start" >V-O</text>
<text x="53.2" y="562.8" font-size="15.8" font-weight="bold" fill="#c5525a" text-anchor="start" >Ag-V-O/GDL</text>
<text transform="translate(38.9,435.6) rotate(-90)" font-size="18.5" font-weight="bold" text-anchor="middle">Intensity (a.u.)</text>
<line x1="216.0" y1="365.6" x2="216.0" y2="530.4" stroke="#aaa" stroke-width="1.5"/>
<path d="M216.0,357.6 L213.4,367.1 L218.6,367.1 Z" fill="#808080"/>
<text x="198.1" y="350.8" font-size="14" font-weight="bold" fill="#c5525a" text-anchor="start" >1.75 V</text>
<text x="199" y="548.8" font-size="14" font-weight="bold" fill="#4f9ab6" text-anchor="start" >0.25 V</text>
<text x="235.5" y="276.8" font-size="22" font-weight="bold" fill="#000" text-anchor="start" >d</text>
<rect x="324.4" y="267.0" width="57.5" height="301.0" fill="#f1f1f1"/>
<path d="M273.60,339.08 L274.10,338.58 L274.60,338.46 L275.10,338.92 L275.60,338.99 L276.10,339.26 L276.60,339.62 L277.10,340.18 L277.60,340.30 L278.10,340.35 L278.60,341.18 L279.10,341.15 L279.60,340.77 L280.10,341.07 L280.60,341.60 L281.10,341.65 L281.60,341.14 L282.10,341.13 L282.60,341.17 L283.10,340.96 L283.60,340.69 L284.10,340.60 L284.60,340.39 L285.10,339.42 L285.60,339.10 L286.10,339.44 L286.60,339.57 L287.10,339.76 L287.60,339.89 L288.10,339.86 L288.60,339.98 L289.10,339.80 L289.60,339.53 L290.10,339.71 L290.60,339.72 L291.10,339.43 L291.60,339.32 L292.10,339.14 L292.60,339.16 L293.10,339.59 L293.60,339.87 L294.10,339.82 L294.60,340.29 L295.10,341.18 L295.60,341.14 L296.10,340.54 L296.60,340.45 L297.10,340.71 L297.60,340.80 L298.10,340.91 L298.60,341.06 L299.10,341.00 L299.60,340.75 L300.10,340.60 L300.60,340.83 L301.10,341.25 L301.60,341.69 L302.10,341.82 L302.60,342.11 L303.10,342.32 L303.60,341.92 L304.10,342.03 L304.60,342.51 L305.10,342.50 L305.60,342.50 L306.10,343.10 L306.60,343.13 L307.10,343.24 L307.60,343.57 L308.10,343.09 L308.60,342.96 L309.10,343.02 L309.60,343.39 L310.10,343.67 L310.60,343.52 L311.10,343.59 L311.60,343.84 L312.10,344.12 L312.60,344.71 L313.10,344.75 L313.60,344.40 L314.10,344.34 L314.60,344.47 L315.10,344.62 L315.60,344.83 L316.10,344.63 L316.60,343.52 L317.10,343.22 L317.60,343.63 L318.10,343.51 L318.60,343.47 L319.10,343.58 L319.60,343.66 L320.10,343.93 L320.60,344.10 L321.10,344.04 L321.60,343.75 L322.10,343.30 L322.60,342.82 L323.10,342.23 L323.60,341.11 L324.10,340.24 L324.60,339.97 L325.10,339.70 L325.60,338.82 L326.10,338.21 L326.60,337.86 L327.10,337.25 L327.60,336.34 L328.10,335.16 L328.60,334.24 L329.10,333.44 L329.60,333.52 L330.10,333.23 L330.60,332.38 L331.10,332.41 L331.60,332.38 L332.10,331.90 L332.60,331.81 L333.10,332.48 L333.60,333.19 L334.10,333.25 L334.60,333.69 L335.10,335.04 L335.60,336.11 L336.10,336.77 L336.60,337.12 L337.10,337.23 L337.60,337.64 L338.10,338.16 L338.60,338.88 L339.10,339.68 L339.60,339.41 L340.10,339.14 L340.60,339.08 L341.10,339.00 L341.60,339.46 L342.10,339.65 L342.60,339.40 L343.10,339.24 L343.60,339.48 L344.10,339.62 L344.60,340.10 L345.10,340.74 L345.60,340.61 L346.10,339.86 L346.60,339.75 L347.10,340.60 L347.60,340.59 L348.10,339.70 L348.60,338.92 L349.10,338.19 L349.60,337.87 L350.10,337.74 L350.60,336.58 L351.10,335.24 L351.60,334.20 L352.10,333.19 L352.60,333.01 L353.10,332.86 L353.60,332.51 L354.10,331.12 L354.60,329.23 L355.10,328.41 L355.60,328.24 L356.10,327.82 L356.60,327.68 L357.10,328.03 L357.60,328.48 L358.10,328.76 L358.60,328.58 L359.10,328.75 L359.60,329.65 L360.10,330.75 L360.60,331.71 L361.10,332.97 L361.60,334.48 L362.10,335.91 L362.60,337.27 L363.10,338.29 L363.60,338.48 L364.10,338.45 L364.60,338.95 L365.10,339.09 L365.60,338.22 L366.10,337.64 L366.60,337.63 L367.10,337.68 L367.60,337.65 L368.10,337.55 L368.60,337.46 L369.10,337.17 L369.60,337.04 L370.10,336.91 L370.60,336.54 L371.10,336.45 L371.60,335.74 L372.10,334.65 L372.60,333.73 L373.10,333.13 L373.60,332.48 L374.10,331.13 L374.60,330.48 L375.10,331.02 L375.60,331.36 L376.10,331.24 L376.60,331.41 L377.10,331.81 L377.60,332.04 L378.10,332.39 L378.60,333.13 L379.10,333.86 L379.60,334.08 L380.10,334.88 L380.60,336.22 L381.10,336.67 L381.60,336.69 L382.10,336.39 L382.60,336.20 L383.10,336.90 L383.60,338.35 L384.10,339.05 L384.60,338.75 L385.10,339.71 L385.60,341.45 L386.10,342.01 L386.60,342.32 L387.10,342.65 L387.60,342.68 L388.10,342.74 L388.60,343.22 L389.10,343.41 L389.60,343.46 L390.10,343.72 L390.60,343.22 L391.10,343.99 L391.60,345.16 L392.10,344.87 L392.60,344.43 L393.10,344.24 L393.60,344.08 L394.10,344.15 L394.60,344.53 L395.10,345.31 L395.60,345.94 L396.10,346.07 L396.60,345.89 L397.10,345.55 L397.60,345.84 L398.10,346.06 L398.60,345.83 L399.10,345.38 L399.60,345.50 L400.10,346.09 L400.60,346.03 L401.10,345.41 L401.60,344.98 L402.10,345.11 L402.60,345.48 L403.10,345.47 L403.60,345.10 L404.10,345.21 L404.60,345.31 L405.10,345.21 L405.60,345.53 L406.10,345.56 L406.60,344.78 L407.10,344.00 L407.60,344.02 L408.10,344.60 L408.60,344.76 L409.10,344.95 L409.60,345.44 L410.10,345.40 L410.60,344.67 L411.10,344.41 L411.60,345.15 L412.10,345.36 L412.60,345.06 L413.10,344.92 L413.60,344.90 L414.10,345.07 L414.60,344.88 L415.10,344.77 L415.60,344.89 L416.10,345.19" fill="none" stroke="#df8083" stroke-width="3.6" stroke-linejoin="round"/>
<path d="M273.60,369.32 L274.10,368.88 L274.60,369.35 L275.10,369.99 L275.60,370.07 L276.10,369.87 L276.60,370.53 L277.10,371.07 L277.60,370.38 L278.10,369.61 L278.60,369.75 L279.10,369.94 L279.60,369.88 L280.10,369.58 L280.60,369.26 L281.10,369.57 L281.60,369.58 L282.10,369.70 L282.60,370.60 L283.10,370.61 L283.60,369.51 L284.10,369.73 L284.60,370.71 L285.10,371.14 L285.60,370.74 L286.10,369.63 L286.60,369.52 L287.10,370.26 L287.60,370.70 L288.10,370.75 L288.60,371.00 L289.10,371.37 L289.60,370.96 L290.10,370.50 L290.60,370.56 L291.10,370.64 L291.60,370.68 L292.10,370.87 L292.60,371.02 L293.10,371.08 L293.60,371.30 L294.10,371.90 L294.60,371.91 L295.10,371.22 L295.60,371.27 L296.10,371.38 L296.60,371.41 L297.10,371.99 L297.60,372.07 L298.10,371.59 L298.60,371.79 L299.10,372.20 L299.60,371.84 L300.10,371.95 L300.60,372.40 L301.10,372.26 L301.60,372.54 L302.10,373.05 L302.60,372.75 L303.10,372.08 L303.60,372.44 L304.10,373.02 L304.60,373.47 L305.10,374.07 L305.60,374.27 L306.10,374.24 L306.60,374.42 L307.10,375.00 L307.60,374.72 L308.10,374.38 L308.60,374.90 L309.10,374.99 L309.60,374.54 L310.10,374.16 L310.60,374.25 L311.10,374.90 L311.60,375.82 L312.10,376.09 L312.60,375.64 L313.10,375.60 L313.60,375.49 L314.10,375.17 L314.60,375.04 L315.10,375.50 L315.60,376.07 L316.10,375.87 L316.60,375.57 L317.10,375.90 L317.60,376.40 L318.10,376.12 L318.60,375.41 L319.10,375.55 L319.60,375.77 L320.10,374.85 L320.60,374.27 L321.10,374.36 L321.60,374.21 L322.10,373.80 L322.60,373.30 L323.10,373.01 L323.60,372.77 L324.10,371.76 L324.60,370.94 L325.10,370.54 L325.60,370.05 L326.10,369.66 L326.60,369.48 L327.10,368.46 L327.60,366.66 L328.10,365.31 L328.60,364.34 L329.10,364.19 L329.60,363.76 L330.10,362.72 L330.60,361.81 L331.10,361.16 L331.60,361.17 L332.10,361.98 L332.60,362.23 L333.10,362.01 L333.60,362.71 L334.10,362.90 L334.60,363.09 L335.10,364.59 L335.60,365.86 L336.10,366.57 L336.60,367.61 L337.10,368.72 L337.60,369.09 L338.10,369.49 L338.60,369.72 L339.10,369.13 L339.60,368.75 L340.10,369.14 L340.60,370.08 L341.10,370.31 L341.60,369.85 L342.10,370.32 L342.60,370.93 L343.10,370.62 L343.60,370.93 L344.10,371.54 L344.60,371.51 L345.10,371.16 L345.60,371.07 L346.10,371.36 L346.60,371.54 L347.10,371.09 L347.60,370.50 L348.10,370.19 L348.60,369.59 L349.10,368.96 L349.60,368.88 L350.10,368.72 L350.60,368.12 L351.10,367.76 L351.60,366.80 L352.10,365.44 L352.60,364.43 L353.10,363.35 L353.60,361.69 L354.10,360.08 L354.60,359.20 L355.10,358.49 L355.60,357.88 L356.10,357.76 L356.60,357.57 L357.10,357.37 L357.60,357.70 L358.10,357.71 L358.60,357.82 L359.10,359.06 L359.60,360.03 L360.10,361.01 L360.60,362.61 L361.10,363.37 L361.60,364.17 L362.10,366.14 L362.60,368.36 L363.10,369.68 L363.60,370.02 L364.10,369.92 L364.60,369.95 L365.10,370.59 L365.60,370.61 L366.10,369.78 L366.60,368.79 L367.10,368.67 L367.60,369.17 L368.10,368.97 L368.60,369.39 L369.10,370.43 L369.60,370.89 L370.10,369.88 L370.60,368.82 L371.10,368.26 L371.60,367.63 L372.10,366.90 L372.60,365.33 L373.10,363.30 L373.60,362.00 L374.10,361.65 L374.60,361.62 L375.10,361.61 L375.60,361.39 L376.10,361.40 L376.60,361.76 L377.10,362.58 L377.60,363.72 L378.10,364.12 L378.60,364.43 L379.10,365.10 L379.60,365.46 L380.10,366.01 L380.60,367.15 L381.10,368.41 L381.60,368.82 L382.10,369.14 L382.60,369.50 L383.10,369.59 L383.60,369.59 L384.10,370.03 L384.60,371.26 L385.10,372.08 L385.60,372.74 L386.10,372.95 L386.60,372.72 L387.10,372.70 L387.60,372.48 L388.10,372.50 L388.60,373.23 L389.10,373.78 L389.60,373.39 L390.10,373.26 L390.60,374.08 L391.10,375.24 L391.60,375.37 L392.10,375.35 L392.60,375.65 L393.10,374.86 L393.60,373.94 L394.10,374.03 L394.60,374.77 L395.10,375.33 L395.60,375.06 L396.10,374.97 L396.60,374.94 L397.10,374.88 L397.60,375.06 L398.10,374.92 L398.60,374.57 L399.10,374.43 L399.60,374.72 L400.10,374.79 L400.60,375.27 L401.10,375.82 L401.60,376.05 L402.10,376.07 L402.60,376.23 L403.10,376.35 L403.60,375.66 L404.10,375.60 L404.60,375.99 L405.10,375.74 L405.60,376.01 L406.10,376.23 L406.60,375.77 L407.10,375.70 L407.60,376.21 L408.10,376.08 L408.60,375.38 L409.10,375.25 L409.60,375.15 L410.10,374.93 L410.60,374.81 L411.10,375.13 L411.60,375.66 L412.10,375.81 L412.60,375.38 L413.10,375.05 L413.60,374.92 L414.10,374.89 L414.60,375.50 L415.10,376.14 L415.60,376.46 L416.10,376.36" fill="none" stroke="#eaa9a6" stroke-width="3.6" stroke-linejoin="round"/>
<path d="M273.60,403.27 L274.10,403.52 L274.60,403.37 L275.10,403.22 L275.60,403.76 L276.10,404.10 L276.60,404.49 L277.10,404.37 L277.60,404.01 L278.10,404.20 L278.60,404.29 L279.10,404.41 L279.60,404.81 L280.10,404.72 L280.60,404.57 L281.10,404.69 L281.60,404.62 L282.10,404.52 L282.60,404.05 L283.10,402.88 L283.60,401.98 L284.10,402.03 L284.60,402.05 L285.10,401.21 L285.60,399.91 L286.10,399.12 L286.60,399.01 L287.10,399.16 L287.60,399.43 L288.10,399.43 L288.60,399.17 L289.10,399.03 L289.60,398.92 L290.10,398.30 L290.60,397.64 L291.10,397.19 L291.60,397.33 L292.10,397.57 L292.60,397.54 L293.10,397.17 L293.60,396.55 L294.10,396.83 L294.60,397.07 L295.10,396.66 L295.60,396.18 L296.10,395.95 L296.60,396.03 L297.10,396.41 L297.60,396.87 L298.10,396.72 L298.60,396.43 L299.10,396.19 L299.60,396.94 L300.10,398.11 L300.60,397.90 L301.10,397.59 L301.60,397.95 L302.10,398.28 L302.60,398.54 L303.10,399.21 L303.60,399.80 L304.10,399.72 L304.60,399.98 L305.10,400.64 L305.60,400.93 L306.10,401.11 L306.60,401.51 L307.10,401.55 L307.60,401.43 L308.10,401.93 L308.60,402.73 L309.10,403.45 L309.60,404.56 L310.10,405.44 L310.60,405.63 L311.10,406.18 L311.60,406.45 L312.10,406.30 L312.60,406.51 L313.10,407.12 L313.60,407.33 L314.10,407.03 L314.60,406.94 L315.10,406.72 L315.60,406.49 L316.10,406.79 L316.60,407.36 L317.10,407.49 L317.60,406.55 L318.10,406.11 L318.60,406.27 L319.10,406.11 L319.60,406.00 L320.10,405.98 L320.60,405.97 L321.10,405.95 L321.60,405.67 L322.10,405.23 L322.60,404.93 L323.10,404.78 L323.60,405.23 L324.10,404.99 L324.60,404.01 L325.10,403.55 L325.60,402.86 L326.10,402.29 L326.60,401.79 L327.10,400.90 L327.60,400.16 L328.10,399.47 L328.60,398.68 L329.10,397.86 L329.60,397.09 L330.10,397.16 L330.60,398.35 L331.10,398.33 L331.60,397.72 L332.10,398.03 L332.60,397.97 L333.10,397.19 L333.60,397.40 L334.10,398.47 L334.60,399.35 L335.10,399.80 L335.60,399.65 L336.10,399.74 L336.60,399.47 L337.10,399.22 L337.60,399.80 L338.10,400.15 L338.60,400.00 L339.10,400.63 L339.60,401.91 L340.10,402.46 L340.60,402.14 L341.10,401.61 L341.60,401.60 L342.10,402.10 L342.60,402.64 L343.10,402.55 L343.60,402.21 L344.10,402.59 L344.60,403.49 L345.10,404.01 L345.60,403.80 L346.10,403.94 L346.60,404.71 L347.10,405.18 L347.60,404.78 L348.10,404.65 L348.60,404.81 L349.10,404.75 L349.60,404.61 L350.10,404.19 L350.60,403.86 L351.10,403.63 L351.60,403.09 L352.10,402.29 L352.60,401.56 L353.10,401.04 L353.60,401.11 L354.10,400.98 L354.60,400.92 L355.10,401.01 L355.60,400.83 L356.10,401.10 L356.60,401.82 L357.10,402.20 L357.60,402.41 L358.10,403.14 L358.60,403.96 L359.10,404.03 L359.60,403.48 L360.10,403.67 L360.60,404.42 L361.10,404.99 L361.60,405.17 L362.10,405.66 L362.60,406.47 L363.10,407.58 L363.60,408.87 L364.10,408.79 L364.60,407.77 L365.10,407.08 L365.60,406.82 L366.10,406.91 L366.60,407.58 L367.10,407.90 L367.60,408.06 L368.10,408.32 L368.60,408.48 L369.10,408.51 L369.60,408.32 L370.10,408.23 L370.60,408.11 L371.10,408.17 L371.60,407.80 L372.10,407.02 L372.60,406.58 L373.10,406.61 L373.60,406.47 L374.10,406.16 L374.60,405.51 L375.10,405.24 L375.60,405.62 L376.10,405.60 L376.60,405.74 L377.10,406.41 L377.60,406.95 L378.10,407.30 L378.60,407.52 L379.10,407.83 L379.60,408.56 L380.10,408.82 L380.60,409.26 L381.10,409.91 L381.60,410.18 L382.10,410.19 L382.60,410.17 L383.10,410.44 L383.60,411.05 L384.10,411.42 L384.60,411.28 L385.10,411.35 L385.60,411.44 L386.10,411.29 L386.60,411.10 L387.10,410.80 L387.60,410.62 L388.10,411.13 L388.60,411.27 L389.10,411.18 L389.60,411.38 L390.10,411.37 L390.60,411.25 L391.10,411.36 L391.60,411.95 L392.10,412.21 L392.60,411.61 L393.10,410.96 L393.60,411.42 L394.10,411.86 L394.60,412.30 L395.10,412.14 L395.60,412.20 L396.10,412.95 L396.60,412.91 L397.10,412.59 L397.60,412.30 L398.10,412.24 L398.60,413.06 L399.10,413.64 L399.60,412.74 L400.10,412.36 L400.60,412.45 L401.10,412.49 L401.60,412.73 L402.10,412.55 L402.60,412.49 L403.10,413.02 L403.60,413.59 L404.10,413.20 L404.60,412.16 L405.10,412.16 L405.60,412.49 L406.10,412.36 L406.60,412.48 L407.10,413.05 L407.60,413.64 L408.10,413.29 L408.60,412.40 L409.10,412.76 L409.60,413.15 L410.10,412.51 L410.60,412.14 L411.10,412.06 L411.60,412.35 L412.10,412.85 L412.60,413.30 L413.10,413.18 L413.60,412.25 L414.10,412.05 L414.60,412.02 L415.10,411.15 L415.60,411.34 L416.10,412.40" fill="none" stroke="#f5d7d2" stroke-width="3.6" stroke-linejoin="round"/>
<path d="M273.60,420.74 L274.10,421.30 L274.60,421.29 L275.10,420.77 L275.60,421.05 L276.10,421.75 L276.60,422.60 L277.10,422.69 L277.60,422.03 L278.10,421.36 L278.60,421.24 L279.10,421.53 L279.60,421.56 L280.10,421.78 L280.60,422.24 L281.10,422.60 L281.60,422.78 L282.10,422.56 L282.60,422.31 L283.10,422.40 L283.60,422.65 L284.10,422.87 L284.60,422.77 L285.10,422.01 L285.60,420.46 L286.10,419.48 L286.60,419.55 L287.10,419.11 L287.60,418.23 L288.10,417.73 L288.60,416.87 L289.10,415.93 L289.60,415.11 L290.10,413.95 L290.60,413.35 L291.10,413.26 L291.60,413.27 L292.10,413.47 L292.60,413.21 L293.10,412.56 L293.60,413.08 L294.10,413.49 L294.60,413.33 L295.10,413.62 L295.60,413.53 L296.10,413.99 L296.60,415.40 L297.10,415.83 L297.60,415.20 L298.10,415.43 L298.60,416.34 L299.10,416.61 L299.60,416.67 L300.10,417.01 L300.60,417.23 L301.10,417.55 L301.60,418.28 L302.10,418.96 L302.60,419.60 L303.10,420.02 L303.60,420.47 L304.10,421.34 L304.60,422.56 L305.10,423.68 L305.60,424.20 L306.10,424.74 L306.60,425.54 L307.10,425.96 L307.60,426.41 L308.10,427.59 L308.60,428.62 L309.10,429.14 L309.60,429.67 L310.10,430.25 L310.60,430.32 L311.10,430.26 L311.60,430.73 L312.10,431.06 L312.60,431.55 L313.10,432.24 L313.60,432.38 L314.10,432.51 L314.60,433.07 L315.10,433.63 L315.60,433.79 L316.10,433.69 L316.60,433.34 L317.10,433.49 L317.60,434.27 L318.10,434.60 L318.60,434.17 L319.10,434.14 L319.60,434.32 L320.10,433.61 L320.60,432.77 L321.10,432.23 L321.60,431.50 L322.10,430.97 L322.60,430.55 L323.10,430.14 L323.60,429.54 L324.10,429.10 L324.60,429.14 L325.10,428.75 L325.60,427.76 L326.10,426.93 L326.60,426.83 L327.10,426.89 L327.60,426.63 L328.10,426.09 L328.60,425.54 L329.10,425.09 L329.60,424.36 L330.10,423.89 L330.60,423.81 L331.10,423.29 L331.60,423.12 L332.10,423.38 L332.60,423.38 L333.10,423.71 L333.60,423.64 L334.10,422.52 L334.60,421.63 L335.10,421.00 L335.60,421.06 L336.10,421.51 L336.60,421.46 L337.10,421.11 L337.60,420.67 L338.10,419.90 L338.60,419.69 L339.10,420.59 L339.60,421.13 L340.10,420.99 L340.60,420.89 L341.10,421.04 L341.60,421.08 L342.10,421.43 L342.60,422.10 L343.10,423.00 L343.60,423.71 L344.10,423.17 L344.60,422.41 L345.10,422.92 L345.60,423.93 L346.10,424.31 L346.60,424.12 L347.10,423.70 L347.60,423.44 L348.10,423.36 L348.60,423.46 L349.10,423.76 L349.60,423.31 L350.10,422.78 L350.60,422.81 L351.10,422.54 L351.60,421.47 L352.10,420.68 L352.60,420.07 L353.10,419.51 L353.60,419.36 L354.10,419.40 L354.60,419.95 L355.10,420.39 L355.60,420.43 L356.10,420.61 L356.60,420.98 L357.10,421.14 L357.60,421.87 L358.10,423.13 L358.60,423.82 L359.10,424.58 L359.60,425.39 L360.10,425.63 L360.60,425.80 L361.10,426.53 L361.60,427.59 L362.10,428.86 L362.60,429.90 L363.10,430.72 L363.60,431.57 L364.10,433.06 L364.60,435.15 L365.10,435.61 L365.60,435.16 L366.10,435.58 L366.60,435.32 L367.10,434.87 L367.60,435.23 L368.10,435.68 L368.60,435.87 L369.10,435.61 L369.60,434.98 L370.10,434.93 L370.60,435.18 L371.10,435.09 L371.60,434.86 L372.10,434.77 L372.60,434.56 L373.10,433.68 L373.60,433.59 L374.10,434.34 L374.60,434.43 L375.10,433.95 L375.60,433.53 L376.10,433.07 L376.60,433.05 L377.10,432.99 L377.60,433.09 L378.10,433.33 L378.60,433.86 L379.10,434.68 L379.60,435.65 L380.10,436.06 L380.60,435.99 L381.10,436.65 L381.60,437.50 L382.10,437.38 L382.60,437.09 L383.10,437.90 L383.60,438.41 L384.10,438.41 L384.60,438.40 L385.10,438.73 L385.60,439.46 L386.10,439.61 L386.60,439.62 L387.10,440.01 L387.60,440.01 L388.10,439.47 L388.60,439.27 L389.10,439.84 L389.60,440.44 L390.10,440.80 L390.60,440.95 L391.10,440.84 L391.60,440.21 L392.10,439.95 L392.60,440.72 L393.10,441.38 L393.60,440.76 L394.10,440.22 L394.60,440.93 L395.10,441.40 L395.60,440.99 L396.10,440.42 L396.60,440.45 L397.10,440.57 L397.60,440.71 L398.10,441.25 L398.60,441.71 L399.10,441.31 L399.60,440.74 L400.10,440.24 L400.60,440.07 L401.10,440.71 L401.60,441.23 L402.10,441.05 L402.60,440.67 L403.10,440.56 L403.60,440.32 L404.10,439.98 L404.60,439.89 L405.10,439.87 L405.60,440.00 L406.10,440.20 L406.60,439.96 L407.10,439.97 L407.60,440.36 L408.10,440.59 L408.60,440.30 L409.10,440.01 L409.60,440.17 L410.10,439.89 L410.60,439.36 L411.10,439.24 L411.60,439.13 L412.10,439.41 L412.60,440.05 L413.10,440.38 L413.60,440.18 L414.10,440.42 L414.60,440.98 L415.10,441.40 L415.60,441.52 L416.10,441.23" fill="none" stroke="#c4e0ec" stroke-width="3.6" stroke-linejoin="round"/>
<path d="M273.60,459.18 L274.10,459.36 L274.60,459.28 L275.10,459.52 L275.60,459.86 L276.10,460.16 L276.60,460.83 L277.10,461.13 L277.60,460.69 L278.10,460.31 L278.60,460.72 L279.10,461.05 L279.60,461.04 L280.10,460.85 L280.60,460.93 L281.10,461.03 L281.60,460.32 L282.10,459.50 L282.60,458.83 L283.10,458.65 L283.60,458.41 L284.10,458.23 L284.60,458.01 L285.10,457.61 L285.60,457.40 L286.10,456.92 L286.60,456.12 L287.10,455.77 L287.60,456.19 L288.10,456.06 L288.60,455.19 L289.10,454.51 L289.60,454.12 L290.10,454.13 L290.60,454.18 L291.10,454.18 L291.60,454.08 L292.10,453.71 L292.60,452.86 L293.10,452.30 L293.60,452.55 L294.10,452.99 L294.60,453.41 L295.10,453.25 L295.60,453.09 L296.10,452.65 L296.60,451.77 L297.10,451.28 L297.60,451.75 L298.10,452.34 L298.60,452.41 L299.10,452.53 L299.60,452.36 L300.10,452.19 L300.60,452.50 L301.10,452.89 L301.60,453.60 L302.10,453.98 L302.60,453.67 L303.10,454.21 L303.60,455.30 L304.10,455.96 L304.60,455.90 L305.10,456.34 L305.60,457.52 L306.10,458.00 L306.60,458.13 L307.10,458.71 L307.60,458.99 L308.10,459.35 L308.60,460.66 L309.10,461.59 L309.60,462.62 L310.10,464.17 L310.60,464.70 L311.10,465.38 L311.60,466.73 L312.10,467.35 L312.60,467.44 L313.10,467.27 L313.60,466.90 L314.10,466.81 L314.60,466.71 L315.10,466.65 L315.60,467.44 L316.10,468.48 L316.60,468.56 L317.10,467.66 L317.60,466.70 L318.10,466.74 L318.60,467.19 L319.10,467.36 L319.60,467.02 L320.10,466.53 L320.60,466.36 L321.10,466.59 L321.60,466.99 L322.10,466.88 L322.60,466.68 L323.10,466.81 L323.60,467.33 L324.10,467.51 L324.60,466.68 L325.10,465.07 L325.60,464.16 L326.10,464.00 L326.60,462.83 L327.10,462.13 L327.60,462.59 L328.10,462.46 L328.60,461.59 L329.10,460.83 L329.60,460.14 L330.10,459.29 L330.60,458.80 L331.10,458.41 L331.60,457.31 L332.10,456.37 L332.60,456.09 L333.10,456.15 L333.60,455.61 L334.10,454.45 L334.60,454.49 L335.10,455.55 L335.60,456.42 L336.10,456.01 L336.60,455.05 L337.10,455.78 L337.60,457.18 L338.10,457.09 L338.60,456.82 L339.10,457.79 L339.60,458.97 L340.10,459.62 L340.60,459.55 L341.10,459.83 L341.60,460.45 L342.10,460.82 L342.60,461.32 L343.10,461.82 L343.60,461.86 L344.10,461.52 L344.60,461.44 L345.10,461.88 L345.60,461.85 L346.10,461.50 L346.60,461.73 L347.10,462.24 L347.60,462.71 L348.10,463.25 L348.60,463.21 L349.10,462.60 L349.60,462.24 L350.10,462.06 L350.60,462.54 L351.10,462.70 L351.60,462.96 L352.10,463.13 L352.60,462.87 L353.10,463.05 L353.60,463.04 L354.10,463.19 L354.60,463.86 L355.10,464.07 L355.60,463.72 L356.10,463.95 L356.60,464.69 L357.10,465.19 L357.60,465.69 L358.10,466.28 L358.60,466.83 L359.10,467.51 L359.60,468.62 L360.10,470.07 L360.60,470.41 L361.10,470.18 L361.60,470.09 L362.10,470.21 L362.60,471.34 L363.10,471.95 L363.60,471.42 L364.10,471.23 L364.60,471.81 L365.10,471.92 L365.60,472.36 L366.10,473.12 L366.60,473.22 L367.10,473.67 L367.60,474.10 L368.10,474.06 L368.60,474.00 L369.10,474.00 L369.60,474.15 L370.10,474.34 L370.60,473.94 L371.10,473.70 L371.60,473.45 L372.10,473.26 L372.60,473.38 L373.10,473.99 L373.60,474.81 L374.10,474.77 L374.60,474.28 L375.10,474.42 L375.60,474.76 L376.10,474.69 L376.60,475.15 L377.10,475.61 L377.60,475.72 L378.10,476.23 L378.60,476.76 L379.10,476.48 L379.60,475.81 L380.10,475.85 L380.60,476.40 L381.10,476.47 L381.60,476.43 L382.10,476.58 L382.60,476.74 L383.10,476.62 L383.60,476.47 L384.10,476.59 L384.60,477.11 L385.10,477.79 L385.60,478.49 L386.10,479.25 L386.60,479.25 L387.10,478.48 L387.60,478.31 L388.10,478.69 L388.60,478.75 L389.10,479.32 L389.60,479.46 L390.10,479.13 L390.60,479.63 L391.10,480.09 L391.60,479.87 L392.10,479.27 L392.60,479.36 L393.10,479.38 L393.60,479.30 L394.10,479.26 L394.60,479.14 L395.10,478.81 L395.60,478.78 L396.10,479.19 L396.60,478.96 L397.10,478.65 L397.60,478.24 L398.10,478.45 L398.60,478.88 L399.10,479.09 L399.60,479.36 L400.10,479.24 L400.60,478.94 L401.10,478.36 L401.60,477.78 L402.10,477.58 L402.60,477.72 L403.10,478.23 L403.60,478.59 L404.10,478.32 L404.60,478.15 L405.10,478.34 L405.60,478.18 L406.10,477.96 L406.60,477.93 L407.10,477.86 L407.60,477.43 L408.10,476.92 L408.60,476.90 L409.10,477.34 L409.60,478.15 L410.10,478.08 L410.60,477.01 L411.10,476.56 L411.60,476.44 L412.10,476.40 L412.60,476.98 L413.10,476.88 L413.60,476.77 L414.10,477.35 L414.60,477.47 L415.10,477.12 L415.60,476.66 L416.10,476.25" fill="none" stroke="#a8cdd3" stroke-width="3.6" stroke-linejoin="round"/>
<path d="M273.60,490.05 L274.10,490.44 L274.60,490.81 L275.10,491.18 L275.60,491.96 L276.10,492.54 L276.60,492.37 L277.10,492.12 L277.60,492.81 L278.10,493.33 L278.60,493.06 L279.10,492.89 L279.60,492.54 L280.10,492.44 L280.60,492.89 L281.10,492.94 L281.60,492.37 L282.10,492.09 L282.60,491.64 L283.10,490.86 L283.60,490.72 L284.10,490.41 L284.60,489.60 L285.10,488.35 L285.60,487.32 L286.10,487.09 L286.60,486.56 L287.10,485.93 L287.60,485.81 L288.10,485.00 L288.60,483.74 L289.10,483.06 L289.60,482.27 L290.10,481.17 L290.60,480.02 L291.10,478.80 L291.60,478.04 L292.10,477.97 L292.60,477.93 L293.10,477.56 L293.60,477.24 L294.10,477.52 L294.60,477.61 L295.10,477.63 L295.60,478.78 L296.10,480.04 L296.60,480.05 L297.10,480.14 L297.60,480.41 L298.10,480.70 L298.60,481.14 L299.10,480.96 L299.60,480.65 L300.10,480.61 L300.60,481.08 L301.10,481.08 L301.60,480.95 L302.10,481.55 L302.60,482.52 L303.10,482.98 L303.60,483.58 L304.10,484.68 L304.60,485.25 L305.10,485.89 L305.60,486.57 L306.10,487.32 L306.60,488.05 L307.10,489.45 L307.60,490.86 L308.10,492.09 L308.60,493.92 L309.10,495.25 L309.60,496.35 L310.10,497.29 L310.60,497.78 L311.10,498.00 L311.60,498.54 L312.10,499.25 L312.60,499.21 L313.10,498.47 L313.60,498.30 L314.10,498.55 L314.60,499.35 L315.10,500.28 L315.60,500.72 L316.10,500.85 L316.60,500.55 L317.10,500.91 L317.60,501.30 L318.10,500.74 L318.60,500.26 L319.10,500.32 L319.60,501.36 L320.10,502.26 L320.60,502.02 L321.10,502.08 L321.60,502.16 L322.10,501.04 L322.60,500.34 L323.10,500.32 L323.60,499.58 L324.10,498.19 L324.60,497.89 L325.10,497.93 L325.60,496.86 L326.10,496.40 L326.60,496.15 L327.10,495.32 L327.60,494.56 L328.10,494.01 L328.60,493.50 L329.10,492.83 L329.60,492.14 L330.10,491.96 L330.60,492.07 L331.10,491.95 L331.60,491.01 L332.10,490.70 L332.60,490.65 L333.10,489.65 L333.60,488.54 L334.10,488.00 L334.60,487.64 L335.10,487.08 L335.60,486.93 L336.10,486.69 L336.60,486.42 L337.10,486.34 L337.60,486.71 L338.10,487.21 L338.60,487.26 L339.10,487.65 L339.60,488.00 L340.10,488.12 L340.60,487.95 L341.10,487.74 L341.60,488.61 L342.10,489.04 L342.60,488.70 L343.10,489.12 L343.60,489.62 L344.10,490.27 L344.60,491.36 L345.10,491.94 L345.60,492.28 L346.10,492.50 L346.60,492.48 L347.10,492.63 L347.60,493.24 L348.10,494.14 L348.60,494.65 L349.10,494.99 L349.60,495.46 L350.10,495.85 L350.60,496.28 L351.10,496.47 L351.60,496.13 L352.10,496.14 L352.60,496.82 L353.10,497.49 L353.60,498.34 L354.10,499.12 L354.60,499.55 L355.10,499.37 L355.60,499.24 L356.10,499.74 L356.60,500.47 L357.10,501.01 L357.60,501.32 L358.10,501.78 L358.60,502.22 L359.10,502.42 L359.60,502.92 L360.10,503.92 L360.60,504.77 L361.10,505.55 L361.60,505.74 L362.10,506.04 L362.60,507.36 L363.10,507.87 L363.60,507.36 L364.10,507.57 L364.60,508.36 L365.10,508.25 L365.60,508.11 L366.10,508.77 L366.60,509.04 L367.10,509.37 L367.60,509.57 L368.10,509.25 L368.60,509.44 L369.10,510.27 L369.60,510.68 L370.10,510.68 L370.60,510.93 L371.10,511.02 L371.60,510.88 L372.10,510.48 L372.60,510.75 L373.10,511.27 L373.60,510.91 L374.10,510.96 L374.60,511.32 L375.10,511.25 L375.60,510.79 L376.10,511.21 L376.60,512.21 L377.10,512.60 L377.60,512.64 L378.10,512.39 L378.60,512.30 L379.10,512.54 L379.60,512.35 L380.10,512.43 L380.60,513.11 L381.10,513.45 L381.60,513.46 L382.10,513.76 L382.60,514.28 L383.10,514.36 L383.60,514.79 L384.10,514.52 L384.60,514.07 L385.10,514.43 L385.60,514.82 L386.10,514.62 L386.60,514.28 L387.10,514.72 L387.60,515.30 L388.10,515.41 L388.60,515.11 L389.10,515.51 L389.60,516.04 L390.10,515.80 L390.60,515.28 L391.10,515.24 L391.60,515.81 L392.10,515.62 L392.60,514.89 L393.10,514.44 L393.60,514.46 L394.10,514.93 L394.60,515.14 L395.10,515.45 L395.60,515.73 L396.10,515.50 L396.60,515.67 L397.10,515.66 L397.60,515.60 L398.10,516.27 L398.60,516.19 L399.10,515.82 L399.60,515.70 L400.10,515.38 L400.60,515.20 L401.10,515.69 L401.60,515.80 L402.10,515.17 L402.60,515.31 L403.10,515.76 L403.60,515.54 L404.10,515.36 L404.60,515.22 L405.10,514.88 L405.60,514.89 L406.10,515.05 L406.60,515.35 L407.10,515.59 L407.60,515.56 L408.10,515.55 L408.60,515.34 L409.10,515.07 L409.60,515.25 L410.10,515.43 L410.60,515.16 L411.10,514.62 L411.60,514.39 L412.10,513.96 L412.60,513.66 L413.10,513.72 L413.60,513.50 L414.10,513.16 L414.60,513.60 L415.10,514.04 L415.60,513.81 L416.10,513.99" fill="none" stroke="#8fb2c3" stroke-width="3.6" stroke-linejoin="round"/>
<path d="M273.60,533.21 L274.10,533.01 L274.60,534.39 L275.10,535.51 L275.60,535.68 L276.10,535.49 L276.60,535.27 L277.10,535.29 L277.60,535.23 L278.10,535.22 L278.60,536.00 L279.10,536.75 L279.60,536.56 L280.10,536.07 L280.60,536.06 L281.10,535.94 L281.60,536.02 L282.10,535.88 L282.60,535.35 L283.10,535.28 L283.60,535.26 L284.10,535.01 L284.60,534.29 L285.10,533.68 L285.60,533.27 L286.10,532.63 L286.60,531.83 L287.10,531.29 L287.60,530.88 L288.10,530.31 L288.60,530.27 L289.10,530.22 L289.60,529.76 L290.10,529.42 L290.60,529.24 L291.10,529.58 L291.60,529.90 L292.10,529.97 L292.60,529.92 L293.10,529.97 L293.60,529.71 L294.10,529.16 L294.60,528.86 L295.10,528.69 L295.60,528.68 L296.10,529.01 L296.60,529.32 L297.10,529.38 L297.60,529.66 L298.10,529.63 L298.60,529.53 L299.10,529.95 L299.60,530.21 L300.10,530.12 L300.60,530.63 L301.10,531.43 L301.60,531.80 L302.10,532.11 L302.60,532.52 L303.10,533.05 L303.60,533.58 L304.10,534.05 L304.60,534.16 L305.10,533.94 L305.60,534.52 L306.10,535.44 L306.60,535.98 L307.10,536.78 L307.60,537.82 L308.10,538.70 L308.60,539.07 L309.10,539.13 L309.60,539.61 L310.10,540.82 L310.60,541.58 L311.10,541.70 L311.60,542.41 L312.10,543.26 L312.60,543.50 L313.10,543.43 L313.60,543.22 L314.10,543.32 L314.60,543.45 L315.10,543.62 L315.60,543.71 L316.10,543.75 L316.60,543.72 L317.10,542.94 L317.60,542.39 L318.10,542.36 L318.60,542.30 L319.10,542.15 L319.60,542.38 L320.10,542.45 L320.60,542.11 L321.10,542.08 L321.60,542.03 L322.10,541.51 L322.60,541.25 L323.10,540.92 L323.60,539.69 L324.10,539.36 L324.60,539.48 L325.10,539.22 L325.60,538.89 L326.10,538.53 L326.60,538.37 L327.10,537.77 L327.60,537.11 L328.10,536.96 L328.60,536.68 L329.10,535.64 L329.60,534.58 L330.10,533.80 L330.60,533.46 L331.10,533.31 L331.60,533.07 L332.10,532.58 L332.60,532.22 L333.10,531.99 L333.60,531.99 L334.10,532.58 L334.60,533.05 L335.10,532.69 L335.60,532.64 L336.10,533.14 L336.60,532.79 L337.10,532.07 L337.60,532.17 L338.10,532.42 L338.60,532.42 L339.10,532.02 L339.60,531.25 L340.10,531.75 L340.60,532.68 L341.10,532.61 L341.60,531.69 L342.10,531.46 L342.60,531.43 L343.10,530.58 L343.60,530.29 L344.10,531.07 L344.60,531.48 L345.10,531.36 L345.60,531.73 L346.10,532.14 L346.60,532.76 L347.10,533.25 L347.60,533.31 L348.10,533.26 L348.60,533.58 L349.10,534.03 L349.60,533.56 L350.10,533.44 L350.60,534.78 L351.10,535.66 L351.60,534.85 L352.10,534.56 L352.60,535.44 L353.10,535.53 L353.60,534.98 L354.10,535.38 L354.60,535.91 L355.10,535.80 L355.60,535.67 L356.10,536.04 L356.60,536.44 L357.10,536.84 L357.60,537.38 L358.10,538.21 L358.60,539.05 L359.10,539.26 L359.60,539.80 L360.10,540.85 L360.60,541.18 L361.10,541.26 L361.60,542.15 L362.10,543.13 L362.60,543.66 L363.10,544.30 L363.60,545.36 L364.10,545.84 L364.60,545.61 L365.10,545.56 L365.60,546.13 L366.10,546.65 L366.60,546.41 L367.10,545.58 L367.60,544.92 L368.10,544.83 L368.60,545.59 L369.10,546.90 L369.60,547.51 L370.10,546.95 L370.60,546.28 L371.10,546.38 L371.60,547.12 L372.10,547.13 L372.60,546.37 L373.10,545.73 L373.60,545.49 L374.10,546.12 L374.60,546.63 L375.10,546.04 L375.60,545.72 L376.10,545.88 L376.60,546.08 L377.10,546.17 L377.60,545.91 L378.10,546.00 L378.60,546.41 L379.10,546.88 L379.60,546.91 L380.10,546.66 L380.60,547.03 L381.10,547.95 L381.60,548.97 L382.10,549.22 L382.60,548.91 L383.10,548.46 L383.60,548.08 L384.10,548.22 L384.60,548.98 L385.10,549.69 L385.60,550.01 L386.10,550.05 L386.60,549.55 L387.10,549.34 L387.60,549.30 L388.10,548.88 L388.60,548.59 L389.10,549.30 L389.60,549.89 L390.10,549.74 L390.60,550.27 L391.10,550.71 L391.60,550.42 L392.10,550.17 L392.60,550.13 L393.10,550.39 L393.60,550.84 L394.10,551.09 L394.60,550.83 L395.10,550.47 L395.60,550.29 L396.10,550.17 L396.60,549.71 L397.10,549.71 L397.60,549.87 L398.10,549.52 L398.60,549.75 L399.10,550.10 L399.60,550.23 L400.10,550.19 L400.60,550.81 L401.10,551.18 L401.60,550.55 L402.10,550.19 L402.60,550.46 L403.10,551.17 L403.60,551.79 L404.10,551.92 L404.60,551.24 L405.10,550.97 L405.60,550.86 L406.10,551.00 L406.60,551.19 L407.10,550.77 L407.60,550.94 L408.10,551.14 L408.60,551.51 L409.10,551.33 L409.60,550.54 L410.10,550.22 L410.60,549.57 L411.10,549.10 L411.60,549.29 L412.10,549.54 L412.60,549.40 L413.10,549.67 L413.60,550.15 L414.10,550.11 L414.60,550.14 L415.10,550.03 L415.60,549.92 L416.10,550.18" fill="none" stroke="#5098b2" stroke-width="3.6" stroke-linejoin="round"/>
<rect x="273.2" y="267.0" width="143.7" height="301.0" fill="none" stroke="#000" stroke-width="1.5"/>
<line x1="273.20" y1="568.0" x2="273.20" y2="575.0" stroke="#000" stroke-width="1.3"/>
<text x="273.20" y="591.8" font-size="14.2" font-weight="bold" fill="#000" text-anchor="middle" >200</text>
<line x1="297.15" y1="568.0" x2="297.15" y2="571.0" stroke="#000" stroke-width="1.3"/>
<line x1="321.10" y1="568.0" x2="321.10" y2="575.0" stroke="#000" stroke-width="1.3"/>
<text x="321.10" y="591.8" font-size="14.2" font-weight="bold" fill="#000" text-anchor="middle" >300</text>
<line x1="345.05" y1="568.0" x2="345.05" y2="571.0" stroke="#000" stroke-width="1.3"/>
<line x1="369.00" y1="568.0" x2="369.00" y2="575.0" stroke="#000" stroke-width="1.3"/>
<text x="369.00" y="591.8" font-size="14.2" font-weight="bold" fill="#000" text-anchor="middle" >400</text>
<line x1="392.95" y1="568.0" x2="392.95" y2="571.0" stroke="#000" stroke-width="1.3"/>
<line x1="416.90" y1="568.0" x2="416.90" y2="575.0" stroke="#000" stroke-width="1.3"/>
<text x="416.90" y="591.8" font-size="14.2" font-weight="bold" fill="#000" text-anchor="middle" >500</text>
<text x="345.6" y="610.6" font-size="16.9" font-weight="bold" text-anchor="middle">Raman shift (cm<tspan dy="-7" font-size="11">-1</tspan><tspan dy="7">)</tspan></text>
<text x="275.5" y="283.6" font-size="15.6" font-weight="bold" fill="#000" text-anchor="start" >EOPO</text>
<rect x="328.6" y="295.4" width="48" height="24.7" fill="none" stroke="#c8437a" stroke-width="1.3" stroke-dasharray="2.6,1.8"/>
<text x="334.8" y="312.5" font-size="14.2" font-weight="bold" fill="#000" text-anchor="start" >Ag-O</text>
<text x="275.3" y="564.2" font-size="15.9" font-weight="bold" fill="#c5525a" text-anchor="start" >Ag-V-O/GDL</text>
<text transform="translate(260,429.5) rotate(-90)" font-size="18.5" font-weight="bold" text-anchor="middle">Intensity (a.u.)</text>
<line x1="438.1" y1="358" x2="438.1" y2="529.2" stroke="#aaa" stroke-width="1.5"/>
<path d="M438.1,350 L435.5,359.5 L440.70000000000005,359.5 Z" fill="#808080"/>
<text x="421" y="349.2" font-size="14" font-weight="bold" fill="#c5525a" text-anchor="start" >1.75 V</text>
<text x="422" y="551.7" font-size="14" font-weight="bold" fill="#4f9ab6" text-anchor="start" >0.25 V</text>
<text x="452.6" y="276.6" font-size="23" font-weight="bold" fill="#000" text-anchor="start" >e</text>
<rect x="547" y="266.9" width="30" height="301.1" fill="#eef6f9"/>
<rect x="593" y="266.9" width="30" height="301.1" fill="#fcf2f1"/>
<path d="M497.00,348.11 L497.50,348.43 L498.00,348.92 L498.50,349.67 L499.00,350.12 L499.50,350.63 L500.00,351.66 L500.50,352.63 L501.00,353.36 L501.50,353.85 L502.00,354.31 L502.50,354.95 L503.00,355.70 L503.50,356.43 L504.00,357.04 L504.50,357.58 L505.00,357.89 L505.50,358.09 L506.00,358.78 L506.50,359.57 L507.00,360.00 L507.50,360.39 L508.00,360.86 L508.50,361.33 L509.00,361.63 L509.50,361.98 L510.00,362.63 L510.50,363.06 L511.00,363.08 L511.50,363.19 L512.00,363.50 L512.50,363.81 L513.00,364.09 L513.50,364.00 L514.00,363.73 L514.50,363.87 L515.00,364.03 L515.50,363.66 L516.00,363.21 L516.50,362.89 L517.00,362.63 L517.50,362.36 L518.00,361.97 L518.50,361.79 L519.00,361.65 L519.50,361.24 L520.00,360.72 L520.50,360.32 L521.00,360.09 L521.50,359.91 L522.00,359.66 L522.50,359.36 L523.00,359.05 L523.50,358.69 L524.00,358.48 L524.50,358.46 L525.00,358.30 L525.50,358.16 L526.00,357.95 L526.50,357.49 L527.00,357.20 L527.50,357.22 L528.00,357.16 L528.50,356.91 L529.00,356.93 L529.50,357.03 L530.00,356.97 L530.50,357.25 L531.00,357.53 L531.50,357.39 L532.00,357.23 L532.50,357.25 L533.00,357.37 L533.50,357.66 L534.00,358.02 L534.50,357.98 L535.00,357.73 L535.50,357.93 L536.00,358.30 L536.50,358.26 L537.00,358.24 L537.50,358.66 L538.00,359.04 L538.50,359.15 L539.00,359.36 L539.50,359.54 L540.00,359.56 L540.50,359.83 L541.00,360.49 L541.50,360.93 L542.00,360.88 L542.50,361.10 L543.00,361.50 L543.50,361.64 L544.00,361.79 L544.50,361.78 L545.00,361.62 L545.50,361.71 L546.00,361.84 L546.50,361.83 L547.00,361.49 L547.50,360.89 L548.00,360.10 L548.50,359.19 L549.00,358.22 L549.50,356.96 L550.00,355.72 L550.50,354.59 L551.00,353.35 L551.50,351.87 L552.00,350.41 L552.50,349.30 L553.00,348.00 L553.50,346.47 L554.00,345.07 L554.50,343.53 L555.00,341.97 L555.50,340.45 L556.00,339.04 L556.50,337.86 L557.00,336.54 L557.50,335.02 L558.00,333.71 L558.50,332.77 L559.00,332.06 L559.50,331.46 L560.00,330.95 L560.50,330.71 L561.00,330.52 L561.50,330.60 L562.00,331.15 L562.50,331.72 L563.00,332.09 L563.50,332.33 L564.00,332.82 L564.50,333.43 L565.00,333.82 L565.50,334.41 L566.00,335.30 L566.50,336.05 L567.00,336.76 L567.50,337.42 L568.00,338.00 L568.50,339.07 L569.00,340.19 L569.50,340.80 L570.00,341.65 L570.50,342.94 L571.00,344.12 L571.50,345.17 L572.00,346.08 L572.50,346.88 L573.00,347.70 L573.50,348.77 L574.00,349.84 L574.50,350.41 L575.00,350.92 L575.50,351.68 L576.00,352.55 L576.50,353.25 L577.00,353.69 L577.50,354.27 L578.00,355.03 L578.50,355.58 L579.00,355.79 L579.50,356.16 L580.00,356.47 L580.50,356.44 L581.00,356.59 L581.50,356.70 L582.00,356.59 L582.50,356.61 L583.00,356.69 L583.50,356.67 L584.00,356.37 L584.50,355.83 L585.00,355.50 L585.50,355.24 L586.00,354.71 L586.50,354.24 L587.00,353.78 L587.50,353.39 L588.00,353.06 L588.50,352.55 L589.00,352.21 L589.50,352.07 L590.00,351.50 L590.50,350.53 L591.00,349.75 L591.50,349.09 L592.00,348.51 L592.50,348.10 L593.00,347.41 L593.50,346.37 L594.00,345.39 L594.50,344.60 L595.00,343.72 L595.50,342.74 L596.00,341.91 L596.50,340.97 L597.00,339.75 L597.50,338.44 L598.00,337.33 L598.50,336.32 L599.00,334.79 L599.50,333.04 L600.00,331.79 L600.50,330.44 L601.00,328.75 L601.50,327.52 L602.00,326.73 L602.50,325.77 L603.00,324.95 L603.50,324.68 L604.00,324.47 L604.50,324.15 L605.00,324.06 L605.50,324.15 L606.00,324.31 L606.50,324.52 L607.00,324.47 L607.50,324.10 L608.00,323.68 L608.50,323.21 L609.00,322.78 L609.50,322.55 L610.00,322.21 L610.50,321.84 L611.00,321.76 L611.50,321.57 L612.00,321.40 L612.50,321.87 L613.00,322.64 L613.50,323.44 L614.00,324.75 L614.50,326.44 L615.00,328.08 L615.50,329.54 L616.00,330.70 L616.50,331.96 L617.00,333.55 L617.50,335.17 L618.00,336.69 L618.50,337.92 L619.00,338.78 L619.50,339.89 L620.00,341.41 L620.50,342.72 L621.00,343.84 L621.50,344.82 L622.00,345.43 L622.50,346.28 L623.00,347.42 L623.50,348.05 L624.00,348.49 L624.50,349.21 L625.00,349.79 L625.50,350.07 L626.00,350.35 L626.50,350.63 L627.00,350.87 L627.50,350.99 L628.00,351.03 L628.50,351.01 L629.00,350.96 L629.50,350.80 L630.00,350.55 L630.50,350.39 L631.00,350.16 L631.50,349.69 L632.00,349.21 L632.50,348.93 L633.00,348.50 L633.50,347.68 L634.00,346.75 L634.50,345.97 L635.00,345.31 L635.50,344.29 L636.00,342.80 L636.50,341.20 L637.00,339.22 L637.50,336.89 L638.00,334.62 L638.50,332.23 L639.00,329.66 L639.50,327.36 L640.00,325.12 L640.50,322.81 L641.00,321.21" fill="none" stroke="#df8083" stroke-width="3.6" stroke-linejoin="round"/>
<path d="M497.00,391.94 L497.50,392.32 L498.00,392.68 L498.50,393.09 L499.00,393.81 L499.50,394.69 L500.00,395.37 L500.50,395.76 L501.00,396.08 L501.50,396.69 L502.00,397.44 L502.50,398.06 L503.00,398.73 L503.50,399.38 L504.00,399.81 L504.50,400.14 L505.00,400.43 L505.50,400.74 L506.00,401.17 L506.50,401.52 L507.00,401.81 L507.50,402.30 L508.00,402.82 L508.50,403.19 L509.00,403.43 L509.50,403.61 L510.00,404.01 L510.50,404.56 L511.00,404.93 L511.50,405.03 L512.00,405.03 L512.50,405.11 L513.00,405.20 L513.50,405.26 L514.00,405.25 L514.50,405.12 L515.00,404.91 L515.50,404.49 L516.00,403.96 L516.50,403.73 L517.00,403.59 L517.50,403.15 L518.00,402.86 L518.50,402.64 L519.00,402.00 L519.50,401.42 L520.00,401.02 L520.50,400.83 L521.00,400.74 L521.50,400.65 L522.00,400.51 L522.50,400.10 L523.00,399.72 L523.50,399.60 L524.00,399.57 L524.50,399.48 L525.00,399.35 L525.50,399.29 L526.00,399.26 L526.50,399.16 L527.00,399.11 L527.50,399.03 L528.00,398.95 L528.50,399.00 L529.00,399.10 L529.50,399.02 L530.00,399.00 L530.50,399.31 L531.00,399.49 L531.50,399.56 L532.00,399.59 L532.50,399.63 L533.00,399.94 L533.50,400.15 L534.00,400.28 L534.50,400.53 L535.00,400.59 L535.50,400.73 L536.00,401.13 L536.50,401.40 L537.00,401.46 L537.50,401.64 L538.00,401.87 L538.50,401.89 L539.00,401.97 L539.50,402.13 L540.00,402.31 L540.50,402.46 L541.00,402.56 L541.50,402.81 L542.00,403.00 L542.50,403.00 L543.00,402.98 L543.50,403.09 L544.00,403.49 L544.50,403.75 L545.00,403.55 L545.50,403.35 L546.00,403.37 L546.50,403.39 L547.00,403.19 L547.50,402.71 L548.00,401.94 L548.50,401.14 L549.00,400.36 L549.50,399.34 L550.00,398.18 L550.50,396.98 L551.00,395.76 L551.50,394.56 L552.00,393.41 L552.50,392.34 L553.00,391.09 L553.50,389.60 L554.00,388.15 L554.50,386.84 L555.00,385.49 L555.50,384.06 L556.00,382.51 L556.50,380.93 L557.00,379.61 L557.50,378.61 L558.00,377.66 L558.50,376.62 L559.00,375.74 L559.50,375.26 L560.00,374.96 L560.50,374.64 L561.00,374.55 L561.50,374.76 L562.00,374.93 L562.50,375.02 L563.00,375.36 L563.50,375.82 L564.00,376.29 L564.50,376.89 L565.00,377.38 L565.50,377.92 L566.00,378.67 L566.50,379.26 L567.00,379.83 L567.50,380.25 L568.00,380.55 L568.50,381.33 L569.00,382.46 L569.50,383.53 L570.00,384.32 L570.50,385.02 L571.00,386.11 L571.50,387.43 L572.00,388.54 L572.50,389.27 L573.00,389.85 L573.50,390.63 L574.00,391.41 L574.50,392.13 L575.00,392.89 L575.50,393.49 L576.00,393.75 L576.50,393.77 L577.00,393.89 L577.50,394.25 L578.00,394.74 L578.50,395.04 L579.00,395.20 L579.50,395.53 L580.00,395.78 L580.50,395.88 L581.00,395.91 L581.50,395.77 L582.00,395.82 L582.50,396.01 L583.00,395.93 L583.50,395.75 L584.00,395.33 L584.50,394.99 L585.00,394.95 L585.50,394.69 L586.00,394.49 L586.50,394.33 L587.00,393.92 L587.50,393.74 L588.00,393.81 L588.50,393.52 L589.00,392.89 L589.50,392.43 L590.00,392.17 L590.50,391.88 L591.00,391.48 L591.50,390.98 L592.00,390.41 L592.50,390.06 L593.00,389.73 L593.50,389.06 L594.00,388.30 L594.50,387.52 L595.00,386.93 L595.50,386.60 L596.00,386.10 L596.50,385.27 L597.00,384.38 L597.50,383.75 L598.00,383.40 L598.50,383.13 L599.00,382.60 L599.50,381.68 L600.00,380.57 L600.50,379.80 L601.00,379.42 L601.50,379.03 L602.00,378.33 L602.50,377.44 L603.00,376.67 L603.50,375.89 L604.00,375.06 L604.50,374.19 L605.00,373.35 L605.50,372.65 L606.00,371.96 L606.50,371.24 L607.00,370.71 L607.50,370.26 L608.00,369.75 L608.50,369.41 L609.00,369.22 L609.50,369.23 L610.00,369.31 L610.50,369.42 L611.00,369.61 L611.50,369.70 L612.00,370.18 L612.50,370.85 L613.00,371.34 L613.50,372.23 L614.00,373.15 L614.50,373.98 L615.00,375.17 L615.50,376.19 L616.00,376.85 L616.50,377.69 L617.00,378.79 L617.50,379.78 L618.00,380.65 L618.50,381.86 L619.00,383.26 L619.50,384.33 L620.00,385.27 L620.50,386.14 L621.00,387.11 L621.50,388.44 L622.00,389.64 L622.50,390.48 L623.00,391.25 L623.50,391.96 L624.00,392.43 L624.50,392.72 L625.00,392.93 L625.50,393.14 L626.00,393.32 L626.50,393.51 L627.00,393.77 L627.50,393.83 L628.00,393.91 L628.50,394.10 L629.00,393.85 L629.50,393.36 L630.00,393.12 L630.50,392.98 L631.00,392.79 L631.50,392.62 L632.00,392.25 L632.50,391.76 L633.00,391.26 L633.50,390.48 L634.00,389.47 L634.50,388.69 L635.00,388.15 L635.50,387.56 L636.00,386.82 L636.50,385.95 L637.00,384.82 L637.50,383.35 L638.00,381.71 L638.50,380.27 L639.00,378.85 L639.50,377.24 L640.00,376.06 L640.50,375.44 L641.00,374.72" fill="none" stroke="#eaa9a6" stroke-width="3.6" stroke-linejoin="round"/>
<path d="M497.00,428.48 L497.50,428.71 L498.00,428.87 L498.50,429.09 L499.00,429.70 L499.50,430.43 L500.00,430.96 L500.50,431.43 L501.00,431.83 L501.50,432.05 L502.00,432.52 L502.50,433.17 L503.00,433.45 L503.50,433.50 L504.00,433.77 L504.50,434.30 L505.00,434.78 L505.50,435.12 L506.00,435.43 L506.50,435.72 L507.00,436.01 L507.50,436.33 L508.00,436.56 L508.50,436.84 L509.00,437.23 L509.50,437.48 L510.00,437.77 L510.50,438.19 L511.00,438.58 L511.50,438.96 L512.00,439.03 L512.50,438.81 L513.00,438.69 L513.50,438.60 L514.00,438.64 L514.50,438.88 L515.00,438.73 L515.50,438.47 L516.00,438.42 L516.50,438.18 L517.00,437.72 L517.50,437.09 L518.00,436.61 L518.50,436.49 L519.00,436.13 L519.50,435.76 L520.00,435.73 L520.50,435.50 L521.00,435.09 L521.50,434.92 L522.00,434.81 L522.50,434.53 L523.00,434.37 L523.50,434.31 L524.00,434.12 L524.50,433.93 L525.00,433.66 L525.50,433.50 L526.00,433.43 L526.50,433.21 L527.00,433.12 L527.50,433.19 L528.00,433.14 L528.50,432.87 L529.00,432.54 L529.50,432.43 L530.00,432.53 L530.50,432.80 L531.00,433.13 L531.50,433.33 L532.00,433.51 L532.50,433.71 L533.00,433.92 L533.50,434.22 L534.00,434.70 L534.50,435.08 L535.00,435.10 L535.50,435.14 L536.00,435.31 L536.50,435.55 L537.00,435.78 L537.50,436.00 L538.00,436.22 L538.50,436.18 L539.00,436.35 L539.50,436.72 L540.00,436.87 L540.50,436.82 L541.00,436.79 L541.50,437.07 L542.00,437.39 L542.50,437.50 L543.00,437.44 L543.50,437.29 L544.00,437.27 L544.50,437.40 L545.00,437.45 L545.50,437.63 L546.00,437.66 L546.50,437.25 L547.00,436.82 L547.50,436.29 L548.00,435.45 L548.50,434.52 L549.00,433.71 L549.50,432.89 L550.00,431.91 L550.50,430.63 L551.00,429.20 L551.50,427.89 L552.00,426.53 L552.50,425.18 L553.00,424.15 L553.50,423.28 L554.00,422.09 L554.50,420.81 L555.00,419.84 L555.50,418.90 L556.00,417.92 L556.50,416.82 L557.00,415.62 L557.50,414.74 L558.00,414.17 L558.50,413.65 L559.00,413.06 L559.50,412.69 L560.00,412.47 L560.50,412.28 L561.00,412.48 L561.50,412.66 L562.00,412.91 L562.50,413.43 L563.00,413.76 L563.50,414.08 L564.00,414.61 L564.50,415.29 L565.00,416.03 L565.50,416.76 L566.00,417.31 L566.50,417.68 L567.00,418.15 L567.50,418.77 L568.00,419.44 L568.50,420.16 L569.00,420.98 L569.50,421.87 L570.00,422.65 L570.50,423.39 L571.00,424.11 L571.50,424.77 L572.00,425.51 L572.50,426.23 L573.00,427.13 L573.50,428.04 L574.00,428.53 L574.50,428.88 L575.00,429.39 L575.50,429.85 L576.00,430.22 L576.50,430.59 L577.00,430.83 L577.50,431.04 L578.00,431.40 L578.50,431.76 L579.00,431.84 L579.50,432.02 L580.00,432.37 L580.50,432.37 L581.00,432.38 L581.50,432.59 L582.00,432.57 L582.50,432.44 L583.00,432.46 L583.50,432.59 L584.00,432.64 L584.50,432.44 L585.00,432.31 L585.50,432.28 L586.00,431.86 L586.50,431.44 L587.00,431.23 L587.50,430.96 L588.00,430.83 L588.50,430.81 L589.00,430.79 L589.50,430.71 L590.00,430.36 L590.50,429.92 L591.00,429.51 L591.50,429.21 L592.00,429.05 L592.50,428.69 L593.00,428.14 L593.50,427.56 L594.00,426.98 L594.50,426.48 L595.00,426.05 L595.50,425.74 L596.00,425.39 L596.50,424.90 L597.00,424.54 L597.50,424.20 L598.00,423.75 L598.50,423.13 L599.00,422.49 L599.50,422.19 L600.00,422.04 L600.50,421.82 L601.00,421.39 L601.50,420.88 L602.00,420.54 L602.50,420.35 L603.00,420.07 L603.50,419.55 L604.00,419.07 L604.50,418.71 L605.00,418.45 L605.50,418.20 L606.00,417.86 L606.50,417.65 L607.00,417.59 L607.50,417.39 L608.00,417.01 L608.50,416.73 L609.00,416.68 L609.50,416.71 L610.00,416.77 L610.50,416.72 L611.00,416.69 L611.50,417.02 L612.00,417.39 L612.50,417.38 L613.00,417.34 L613.50,417.70 L614.00,418.29 L614.50,418.55 L615.00,418.68 L615.50,419.25 L616.00,419.87 L616.50,420.04 L617.00,420.09 L617.50,420.59 L618.00,421.28 L618.50,421.66 L619.00,421.87 L619.50,422.25 L620.00,422.88 L620.50,423.42 L621.00,423.77 L621.50,424.35 L622.00,425.06 L622.50,425.49 L623.00,425.77 L623.50,426.06 L624.00,426.16 L624.50,426.21 L625.00,426.34 L625.50,426.50 L626.00,426.73 L626.50,427.11 L627.00,427.52 L627.50,427.70 L628.00,427.60 L628.50,427.32 L629.00,427.18 L629.50,426.94 L630.00,426.66 L630.50,426.54 L631.00,426.29 L631.50,426.17 L632.00,425.92 L632.50,425.18 L633.00,424.38 L633.50,423.63 L634.00,422.93 L634.50,422.32 L635.00,421.63 L635.50,420.83 L636.00,419.90 L636.50,418.87 L637.00,417.76 L637.50,416.33 L638.00,414.58 L638.50,413.07 L639.00,411.82 L639.50,410.28 L640.00,408.88 L640.50,407.72 L641.00,406.52" fill="none" stroke="#f5d7d2" stroke-width="3.6" stroke-linejoin="round"/>
<path d="M497.00,458.14 L497.50,458.35 L498.00,458.56 L498.50,458.73 L499.00,459.14 L499.50,459.70 L500.00,460.00 L500.50,460.06 L501.00,460.38 L501.50,460.94 L502.00,461.58 L502.50,462.14 L503.00,462.28 L503.50,462.24 L504.00,462.43 L504.50,462.70 L505.00,462.89 L505.50,463.10 L506.00,463.40 L506.50,463.70 L507.00,463.95 L507.50,464.31 L508.00,464.56 L508.50,464.41 L509.00,464.44 L509.50,464.75 L510.00,465.09 L510.50,465.33 L511.00,465.59 L511.50,465.89 L512.00,465.89 L512.50,465.80 L513.00,465.63 L513.50,465.65 L514.00,465.79 L514.50,465.40 L515.00,464.98 L515.50,464.95 L516.00,465.04 L516.50,464.94 L517.00,464.53 L517.50,464.18 L518.00,464.03 L518.50,463.75 L519.00,463.37 L519.50,463.11 L520.00,462.92 L520.50,462.81 L521.00,462.76 L521.50,462.75 L522.00,462.61 L522.50,462.17 L523.00,461.90 L523.50,461.93 L524.00,461.90 L524.50,461.86 L525.00,461.85 L525.50,461.78 L526.00,461.71 L526.50,461.57 L527.00,461.38 L527.50,461.34 L528.00,461.44 L528.50,461.54 L529.00,461.63 L529.50,461.58 L530.00,461.46 L530.50,461.54 L531.00,461.63 L531.50,461.62 L532.00,461.67 L532.50,461.95 L533.00,462.10 L533.50,462.16 L534.00,462.46 L534.50,462.63 L535.00,462.57 L535.50,462.71 L536.00,463.09 L536.50,463.37 L537.00,463.30 L537.50,463.12 L538.00,463.29 L538.50,463.56 L539.00,463.70 L539.50,463.98 L540.00,464.08 L540.50,463.96 L541.00,464.09 L541.50,464.30 L542.00,464.30 L542.50,464.24 L543.00,464.28 L543.50,464.49 L544.00,464.73 L544.50,464.78 L545.00,464.73 L545.50,464.63 L546.00,464.55 L546.50,464.38 L547.00,463.93 L547.50,463.45 L548.00,462.96 L548.50,462.23 L549.00,461.31 L549.50,460.31 L550.00,459.33 L550.50,458.40 L551.00,457.34 L551.50,456.31 L552.00,455.35 L552.50,454.46 L553.00,453.80 L553.50,453.00 L554.00,451.98 L554.50,451.17 L555.00,450.46 L555.50,449.73 L556.00,449.06 L556.50,448.34 L557.00,447.65 L557.50,446.97 L558.00,446.21 L558.50,445.84 L559.00,445.73 L559.50,445.47 L560.00,445.39 L560.50,445.55 L561.00,445.53 L561.50,445.31 L562.00,445.37 L562.50,445.67 L563.00,446.09 L563.50,446.46 L564.00,446.81 L564.50,447.41 L565.00,448.11 L565.50,448.58 L566.00,448.92 L566.50,449.47 L567.00,449.99 L567.50,450.55 L568.00,451.34 L568.50,451.92 L569.00,452.42 L569.50,453.19 L570.00,453.90 L570.50,454.53 L571.00,455.28 L571.50,456.02 L572.00,456.74 L572.50,457.30 L573.00,457.85 L573.50,458.70 L574.00,459.31 L574.50,459.68 L575.00,460.12 L575.50,460.54 L576.00,460.98 L576.50,461.38 L577.00,461.36 L577.50,461.39 L578.00,461.92 L578.50,462.33 L579.00,462.42 L579.50,462.47 L580.00,462.58 L580.50,462.78 L581.00,462.97 L581.50,463.06 L582.00,463.02 L582.50,463.00 L583.00,463.05 L583.50,463.03 L584.00,462.82 L584.50,462.62 L585.00,462.50 L585.50,462.31 L586.00,462.29 L586.50,462.18 L587.00,461.72 L587.50,461.33 L588.00,461.35 L588.50,461.61 L589.00,461.54 L589.50,461.30 L590.00,461.12 L590.50,460.85 L591.00,460.65 L591.50,460.53 L592.00,460.40 L592.50,460.46 L593.00,460.61 L593.50,460.40 L594.00,459.86 L594.50,459.51 L595.00,459.25 L595.50,458.97 L596.00,458.90 L596.50,459.02 L597.00,459.12 L597.50,458.92 L598.00,458.59 L598.50,458.45 L599.00,458.32 L599.50,458.23 L600.00,458.23 L600.50,458.13 L601.00,457.93 L601.50,457.68 L602.00,457.47 L602.50,457.33 L603.00,457.17 L603.50,456.97 L604.00,456.83 L604.50,456.76 L605.00,456.60 L605.50,456.26 L606.00,456.09 L606.50,456.08 L607.00,455.85 L607.50,455.69 L608.00,455.99 L608.50,456.03 L609.00,455.60 L609.50,455.61 L610.00,455.83 L610.50,455.76 L611.00,455.81 L611.50,455.92 L612.00,455.97 L612.50,456.02 L613.00,455.89 L613.50,455.86 L614.00,456.07 L614.50,456.31 L615.00,456.53 L615.50,456.78 L616.00,456.93 L616.50,456.88 L617.00,456.85 L617.50,456.85 L618.00,456.77 L618.50,456.82 L619.00,456.89 L619.50,457.05 L620.00,457.32 L620.50,457.31 L621.00,457.28 L621.50,457.62 L622.00,458.11 L622.50,458.31 L623.00,458.28 L623.50,458.18 L624.00,458.01 L624.50,458.12 L625.00,458.33 L625.50,458.23 L626.00,458.15 L626.50,458.34 L627.00,458.65 L627.50,458.64 L628.00,458.44 L628.50,458.33 L629.00,458.13 L629.50,458.01 L630.00,457.93 L630.50,457.87 L631.00,457.91 L631.50,457.68 L632.00,457.35 L632.50,457.06 L633.00,456.63 L633.50,456.34 L634.00,456.01 L634.50,455.45 L635.00,454.67 L635.50,453.51 L636.00,452.40 L636.50,451.50 L637.00,450.43 L637.50,449.33 L638.00,448.24 L638.50,446.82 L639.00,445.26 L639.50,444.05 L640.00,443.00 L640.50,442.04 L641.00,441.45" fill="none" stroke="#c4e0ec" stroke-width="3.6" stroke-linejoin="round"/>
<path d="M497.00,485.34 L497.50,485.51 L498.00,485.62 L498.50,485.62 L499.00,485.82 L499.50,486.13 L500.00,486.44 L500.50,486.70 L501.00,486.71 L501.50,486.70 L502.00,486.87 L502.50,487.06 L503.00,487.34 L503.50,487.67 L504.00,487.87 L504.50,487.85 L505.00,487.60 L505.50,487.46 L506.00,487.65 L506.50,487.87 L507.00,487.88 L507.50,487.90 L508.00,488.18 L508.50,488.39 L509.00,488.37 L509.50,488.54 L510.00,488.69 L510.50,488.56 L511.00,488.44 L511.50,488.28 L512.00,488.28 L512.50,488.53 L513.00,488.69 L513.50,488.59 L514.00,488.47 L514.50,488.60 L515.00,488.73 L515.50,488.51 L516.00,488.14 L516.50,487.96 L517.00,487.83 L517.50,487.79 L518.00,487.60 L518.50,487.37 L519.00,487.23 L519.50,486.87 L520.00,486.59 L520.50,486.42 L521.00,486.51 L521.50,486.79 L522.00,486.87 L522.50,486.70 L523.00,486.29 L523.50,485.97 L524.00,486.15 L524.50,486.53 L525.00,486.33 L525.50,485.92 L526.00,485.87 L526.50,485.97 L527.00,485.97 L527.50,485.71 L528.00,485.48 L528.50,485.64 L529.00,485.89 L529.50,485.90 L530.00,485.77 L530.50,485.87 L531.00,486.24 L531.50,486.33 L532.00,486.21 L532.50,486.46 L533.00,486.82 L533.50,486.94 L534.00,487.06 L534.50,487.09 L535.00,487.08 L535.50,487.23 L536.00,487.45 L536.50,487.49 L537.00,487.53 L537.50,487.70 L538.00,487.59 L538.50,487.56 L539.00,487.67 L539.50,487.56 L540.00,487.53 L540.50,487.69 L541.00,487.64 L541.50,487.36 L542.00,487.16 L542.50,487.21 L543.00,487.52 L543.50,487.72 L544.00,487.72 L544.50,487.62 L545.00,487.54 L545.50,487.50 L546.00,487.30 L546.50,487.14 L547.00,487.19 L547.50,487.03 L548.00,486.79 L548.50,486.59 L549.00,485.83 L549.50,485.03 L550.00,484.58 L550.50,484.06 L551.00,483.60 L551.50,482.96 L552.00,482.18 L552.50,481.55 L553.00,480.93 L553.50,480.27 L554.00,479.59 L554.50,478.94 L555.00,478.42 L555.50,477.76 L556.00,476.94 L556.50,476.33 L557.00,475.68 L557.50,474.89 L558.00,474.31 L558.50,473.77 L559.00,473.34 L559.50,473.01 L560.00,472.80 L560.50,472.87 L561.00,472.86 L561.50,472.76 L562.00,472.84 L562.50,473.15 L563.00,473.58 L563.50,473.88 L564.00,474.19 L564.50,474.83 L565.00,475.40 L565.50,475.75 L566.00,476.08 L566.50,476.58 L567.00,477.25 L567.50,477.78 L568.00,478.47 L568.50,479.15 L569.00,479.27 L569.50,479.64 L570.00,480.35 L570.50,480.81 L571.00,481.38 L571.50,482.01 L572.00,482.56 L572.50,483.18 L573.00,483.61 L573.50,483.87 L574.00,484.07 L574.50,484.31 L575.00,484.83 L575.50,485.28 L576.00,485.40 L576.50,485.52 L577.00,485.63 L577.50,485.69 L578.00,485.88 L578.50,485.85 L579.00,485.68 L579.50,485.85 L580.00,486.39 L580.50,486.73 L581.00,486.71 L581.50,486.53 L582.00,486.10 L582.50,486.00 L583.00,486.47 L583.50,486.46 L584.00,486.10 L584.50,486.10 L585.00,486.11 L585.50,485.91 L586.00,485.78 L586.50,485.85 L587.00,485.74 L587.50,485.48 L588.00,485.33 L588.50,485.22 L589.00,485.22 L589.50,485.21 L590.00,485.17 L590.50,484.91 L591.00,484.50 L591.50,484.40 L592.00,484.54 L592.50,484.65 L593.00,484.51 L593.50,484.19 L594.00,484.27 L594.50,484.48 L595.00,484.17 L595.50,483.71 L596.00,483.59 L596.50,483.82 L597.00,483.86 L597.50,483.70 L598.00,483.76 L598.50,483.88 L599.00,483.83 L599.50,483.60 L600.00,483.30 L600.50,483.22 L601.00,483.19 L601.50,483.12 L602.00,483.25 L602.50,483.20 L603.00,482.81 L603.50,482.52 L604.00,482.43 L604.50,482.36 L605.00,482.43 L605.50,482.75 L606.00,482.81 L606.50,482.39 L607.00,482.32 L607.50,482.55 L608.00,482.41 L608.50,482.15 L609.00,482.10 L609.50,482.17 L610.00,482.09 L610.50,482.01 L611.00,482.05 L611.50,482.00 L612.00,481.73 L612.50,481.51 L613.00,481.48 L613.50,481.27 L614.00,480.98 L614.50,480.88 L615.00,480.85 L615.50,480.88 L616.00,480.86 L616.50,480.68 L617.00,480.58 L617.50,480.70 L618.00,480.79 L618.50,480.63 L619.00,480.32 L619.50,480.15 L620.00,480.17 L620.50,480.14 L621.00,480.04 L621.50,479.92 L622.00,479.77 L622.50,479.75 L623.00,479.69 L623.50,479.51 L624.00,479.36 L624.50,479.32 L625.00,479.35 L625.50,479.30 L626.00,479.09 L626.50,478.77 L627.00,478.45 L627.50,478.24 L628.00,478.12 L628.50,477.95 L629.00,477.64 L629.50,477.30 L630.00,477.19 L630.50,477.12 L631.00,476.84 L631.50,476.53 L632.00,476.30 L632.50,476.04 L633.00,475.81 L633.50,475.59 L634.00,475.11 L634.50,474.57 L635.00,474.18 L635.50,473.73 L636.00,473.40 L636.50,472.98 L637.00,472.35 L637.50,471.86 L638.00,471.40 L638.50,470.83 L639.00,470.22 L639.50,469.64 L640.00,469.15 L640.50,468.75 L641.00,468.36" fill="none" stroke="#a8cdd3" stroke-width="3.6" stroke-linejoin="round"/>
<path d="M497.00,508.61 L497.50,508.77 L498.00,509.08 L498.50,509.31 L499.00,509.20 L499.50,509.33 L500.00,509.77 L500.50,509.84 L501.00,509.82 L501.50,510.08 L502.00,510.38 L502.50,510.83 L503.00,511.25 L503.50,511.32 L504.00,511.42 L504.50,511.55 L505.00,511.45 L505.50,511.62 L506.00,512.05 L506.50,512.10 L507.00,512.12 L507.50,512.34 L508.00,512.40 L508.50,512.58 L509.00,512.85 L509.50,512.92 L510.00,512.98 L510.50,513.18 L511.00,513.27 L511.50,512.93 L512.00,512.79 L512.50,513.14 L513.00,513.54 L513.50,513.76 L514.00,513.54 L514.50,513.30 L515.00,513.25 L515.50,513.09 L516.00,512.80 L516.50,512.42 L517.00,512.28 L517.50,512.14 L518.00,511.67 L518.50,511.38 L519.00,511.31 L519.50,511.12 L520.00,510.86 L520.50,510.69 L521.00,510.51 L521.50,510.18 L522.00,509.92 L522.50,509.81 L523.00,509.60 L523.50,509.52 L524.00,509.59 L524.50,509.36 L525.00,508.90 L525.50,508.64 L526.00,508.71 L526.50,508.87 L527.00,508.88 L527.50,508.90 L528.00,508.96 L528.50,508.71 L529.00,508.49 L529.50,508.66 L530.00,508.89 L530.50,508.96 L531.00,509.08 L531.50,509.31 L532.00,509.51 L532.50,509.56 L533.00,509.52 L533.50,509.65 L534.00,509.84 L534.50,510.11 L535.00,510.41 L535.50,510.49 L536.00,510.41 L536.50,510.36 L537.00,510.54 L537.50,510.80 L538.00,510.82 L538.50,510.83 L539.00,511.01 L539.50,511.19 L540.00,511.34 L540.50,511.46 L541.00,511.41 L541.50,511.24 L542.00,511.31 L542.50,511.77 L543.00,512.07 L543.50,511.94 L544.00,511.73 L544.50,511.79 L545.00,511.97 L545.50,511.86 L546.00,511.67 L546.50,511.55 L547.00,511.37 L547.50,511.20 L548.00,510.85 L548.50,510.26 L549.00,509.57 L549.50,509.02 L550.00,508.40 L550.50,507.62 L551.00,507.08 L551.50,506.64 L552.00,506.19 L552.50,505.55 L553.00,504.58 L553.50,503.87 L554.00,503.37 L554.50,502.74 L555.00,501.99 L555.50,501.24 L556.00,500.60 L556.50,500.07 L557.00,499.52 L557.50,498.72 L558.00,498.05 L558.50,497.54 L559.00,496.92 L559.50,496.33 L560.00,495.89 L560.50,495.52 L561.00,495.26 L561.50,495.34 L562.00,495.61 L562.50,495.60 L563.00,495.54 L563.50,495.80 L564.00,496.12 L564.50,496.41 L565.00,496.90 L565.50,497.40 L566.00,497.72 L566.50,498.26 L567.00,498.87 L567.50,499.20 L568.00,499.75 L568.50,500.48 L569.00,501.00 L569.50,501.64 L570.00,502.47 L570.50,503.07 L571.00,503.52 L571.50,504.05 L572.00,504.48 L572.50,505.01 L573.00,505.71 L573.50,506.09 L574.00,506.29 L574.50,506.85 L575.00,507.30 L575.50,507.22 L576.00,507.14 L576.50,507.30 L577.00,507.50 L577.50,507.69 L578.00,507.73 L578.50,507.66 L579.00,507.67 L579.50,507.81 L580.00,507.84 L580.50,507.72 L581.00,507.72 L581.50,507.88 L582.00,508.09 L582.50,508.06 L583.00,508.00 L583.50,508.09 L584.00,508.01 L584.50,507.85 L585.00,507.88 L585.50,507.98 L586.00,507.76 L586.50,507.44 L587.00,507.44 L587.50,507.37 L588.00,507.28 L588.50,507.58 L589.00,507.65 L589.50,507.44 L590.00,507.47 L590.50,507.45 L591.00,507.23 L591.50,507.18 L592.00,507.33 L592.50,507.17 L593.00,506.96 L593.50,506.99 L594.00,506.88 L594.50,506.74 L595.00,506.82 L595.50,506.65 L596.00,506.36 L596.50,506.44 L597.00,506.62 L597.50,506.68 L598.00,506.61 L598.50,506.42 L599.00,506.20 L599.50,506.00 L600.00,505.93 L600.50,505.96 L601.00,506.10 L601.50,506.07 L602.00,505.64 L602.50,505.38 L603.00,505.61 L603.50,505.73 L604.00,505.43 L604.50,505.23 L605.00,505.27 L605.50,505.19 L606.00,505.11 L606.50,505.13 L607.00,505.01 L607.50,504.88 L608.00,504.96 L608.50,505.08 L609.00,504.97 L609.50,504.47 L610.00,504.13 L610.50,504.17 L611.00,504.16 L611.50,504.05 L612.00,503.99 L612.50,504.12 L613.00,504.18 L613.50,504.08 L614.00,503.83 L614.50,503.69 L615.00,503.89 L615.50,504.04 L616.00,503.86 L616.50,503.55 L617.00,503.44 L617.50,503.38 L618.00,503.20 L618.50,503.12 L619.00,503.15 L619.50,502.97 L620.00,502.77 L620.50,502.86 L621.00,502.80 L621.50,502.55 L622.00,502.48 L622.50,502.53 L623.00,502.44 L623.50,502.28 L624.00,502.14 L624.50,501.96 L625.00,501.80 L625.50,501.56 L626.00,501.54 L626.50,501.58 L627.00,501.23 L627.50,500.92 L628.00,500.87 L628.50,500.83 L629.00,500.71 L629.50,500.49 L630.00,500.26 L630.50,500.25 L631.00,500.12 L631.50,499.61 L632.00,499.40 L632.50,499.25 L633.00,498.88 L633.50,498.71 L634.00,498.29 L634.50,497.84 L635.00,497.88 L635.50,497.68 L636.00,497.04 L636.50,496.40 L637.00,495.88 L637.50,495.33 L638.00,494.87 L638.50,494.32 L639.00,493.40 L639.50,492.72 L640.00,492.58 L640.50,492.37 L641.00,491.97" fill="none" stroke="#8fb2c3" stroke-width="3.6" stroke-linejoin="round"/>
<path d="M497.00,532.58 L497.50,532.77 L498.00,533.15 L498.50,533.74 L499.00,534.41 L499.50,535.05 L500.00,535.55 L500.50,535.98 L501.00,536.67 L501.50,537.56 L502.00,538.23 L502.50,538.65 L503.00,539.01 L503.50,539.52 L504.00,540.09 L504.50,540.44 L505.00,540.72 L505.50,540.96 L506.00,541.08 L506.50,541.30 L507.00,541.54 L507.50,541.83 L508.00,542.36 L508.50,542.72 L509.00,542.79 L509.50,542.92 L510.00,543.14 L510.50,543.42 L511.00,543.81 L511.50,543.89 L512.00,543.78 L512.50,543.96 L513.00,544.07 L513.50,543.85 L514.00,543.68 L514.50,543.66 L515.00,543.63 L515.50,543.65 L516.00,543.67 L516.50,543.47 L517.00,543.08 L517.50,542.75 L518.00,542.52 L518.50,542.26 L519.00,541.90 L519.50,541.53 L520.00,541.27 L520.50,541.16 L521.00,541.14 L521.50,541.07 L522.00,540.72 L522.50,540.40 L523.00,540.32 L523.50,540.09 L524.00,539.72 L524.50,539.47 L525.00,539.26 L525.50,539.09 L526.00,538.98 L526.50,538.82 L527.00,538.73 L527.50,538.75 L528.00,538.60 L528.50,538.48 L529.00,538.79 L529.50,539.22 L530.00,539.44 L530.50,539.61 L531.00,539.73 L531.50,539.76 L532.00,539.85 L532.50,540.19 L533.00,540.65 L533.50,540.99 L534.00,541.22 L534.50,541.57 L535.00,541.90 L535.50,541.99 L536.00,542.11 L536.50,542.28 L537.00,542.58 L537.50,542.91 L538.00,543.03 L538.50,543.02 L539.00,542.82 L539.50,542.53 L540.00,542.60 L540.50,543.02 L541.00,543.19 L541.50,543.18 L542.00,543.39 L542.50,543.40 L543.00,543.31 L543.50,543.64 L544.00,543.88 L544.50,543.70 L545.00,543.63 L545.50,543.63 L546.00,543.54 L546.50,543.56 L547.00,543.37 L547.50,542.89 L548.00,542.26 L548.50,541.41 L549.00,540.36 L549.50,539.27 L550.00,538.25 L550.50,536.93 L551.00,535.51 L551.50,534.32 L552.00,533.06 L552.50,531.96 L553.00,531.10 L553.50,529.93 L554.00,528.36 L554.50,527.04 L555.00,526.01 L555.50,524.85 L556.00,523.76 L556.50,522.66 L557.00,521.56 L557.50,520.59 L558.00,519.44 L558.50,518.29 L559.00,517.45 L559.50,516.94 L560.00,516.48 L560.50,516.10 L561.00,516.09 L561.50,516.20 L562.00,516.24 L562.50,516.66 L563.00,517.28 L563.50,517.94 L564.00,518.83 L564.50,519.66 L565.00,520.33 L565.50,521.06 L566.00,522.06 L566.50,523.41 L567.00,524.91 L567.50,526.22 L568.00,527.58 L568.50,529.54 L569.00,531.50 L569.50,533.13 L570.00,534.77 L570.50,536.23 L571.00,537.45 L571.50,538.65 L572.00,539.87 L572.50,540.76 L573.00,541.39 L573.50,542.06 L574.00,542.84 L574.50,543.59 L575.00,544.04 L575.50,544.18 L576.00,544.39 L576.50,544.66 L577.00,544.92 L577.50,545.40 L578.00,545.61 L578.50,545.54 L579.00,545.60 L579.50,545.76 L580.00,545.92 L580.50,545.99 L581.00,546.10 L581.50,546.08 L582.00,546.08 L582.50,546.32 L583.00,546.43 L583.50,546.37 L584.00,546.40 L584.50,546.55 L585.00,546.64 L585.50,546.65 L586.00,546.72 L586.50,546.77 L587.00,546.86 L587.50,547.07 L588.00,547.17 L588.50,547.09 L589.00,546.93 L589.50,546.95 L590.00,547.08 L590.50,547.07 L591.00,546.98 L591.50,547.05 L592.00,547.28 L592.50,547.49 L593.00,547.49 L593.50,547.35 L594.00,547.39 L594.50,547.45 L595.00,547.38 L595.50,547.32 L596.00,547.37 L596.50,547.50 L597.00,547.45 L597.50,547.24 L598.00,547.16 L598.50,547.21 L599.00,547.28 L599.50,547.32 L600.00,547.48 L600.50,547.57 L601.00,547.49 L601.50,547.52 L602.00,547.49 L602.50,547.37 L603.00,547.35 L603.50,547.42 L604.00,547.63 L604.50,547.74 L605.00,547.53 L605.50,547.44 L606.00,547.59 L606.50,547.52 L607.00,547.37 L607.50,547.41 L608.00,547.38 L608.50,547.40 L609.00,547.40 L609.50,547.25 L610.00,547.24 L610.50,547.19 L611.00,547.01 L611.50,546.89 L612.00,546.88 L612.50,547.01 L613.00,547.01 L613.50,546.84 L614.00,546.71 L614.50,546.66 L615.00,546.73 L615.50,546.77 L616.00,546.87 L616.50,546.92 L617.00,546.69 L617.50,546.63 L618.00,546.75 L618.50,546.72 L619.00,546.75 L619.50,546.78 L620.00,546.67 L620.50,546.34 L621.00,546.07 L621.50,546.14 L622.00,546.39 L622.50,546.43 L623.00,546.19 L623.50,545.98 L624.00,545.81 L624.50,545.84 L625.00,546.02 L625.50,545.97 L626.00,545.75 L626.50,545.57 L627.00,545.50 L627.50,545.38 L628.00,545.11 L628.50,544.89 L629.00,544.78 L629.50,544.49 L630.00,544.11 L630.50,543.96 L631.00,543.86 L631.50,543.61 L632.00,543.40 L632.50,543.27 L633.00,542.95 L633.50,542.61 L634.00,542.31 L634.50,541.63 L635.00,540.75 L635.50,539.86 L636.00,538.97 L636.50,537.95 L637.00,536.63 L637.50,535.56 L638.00,534.63 L638.50,533.24 L639.00,531.99 L639.50,531.13 L640.00,530.32 L640.50,529.78 L641.00,529.40" fill="none" stroke="#5098b2" stroke-width="3.6" stroke-linejoin="round"/>
<rect x="497.2" y="266.9" width="143.7" height="301.1" fill="none" stroke="#000" stroke-width="1.5"/>
<line x1="497.20" y1="568.0" x2="497.20" y2="575.0" stroke="#000" stroke-width="1.3"/>
<text x="497.20" y="591.8" font-size="14.2" font-weight="bold" fill="#000" text-anchor="middle" >300</text>
<line x1="533.12" y1="568.0" x2="533.12" y2="571.0" stroke="#000" stroke-width="1.3"/>
<line x1="569.05" y1="568.0" x2="569.05" y2="575.0" stroke="#000" stroke-width="1.3"/>
<text x="569.05" y="591.8" font-size="14.2" font-weight="bold" fill="#000" text-anchor="middle" >600</text>
<line x1="604.98" y1="568.0" x2="604.98" y2="571.0" stroke="#000" stroke-width="1.3"/>
<line x1="640.90" y1="568.0" x2="640.90" y2="575.0" stroke="#000" stroke-width="1.3"/>
<text x="640.90" y="591.8" font-size="14.2" font-weight="bold" fill="#000" text-anchor="middle" >900</text>
<text x="568.9" y="609.4" font-size="16.9" font-weight="bold" text-anchor="middle">Raman shift (cm<tspan dy="-7" font-size="11">-1</tspan><tspan dy="7">)</tspan></text>
<text x="500.4" y="284.2" font-size="15.6" font-weight="bold" fill="#000" text-anchor="start" >EOPO</text>
<text x="538.6" y="321.4" font-size="14.1" font-weight="bold" fill="#000" text-anchor="start" >O-Ag-O</text>
<text x="589.8" y="309.6" font-size="14.2" font-weight="bold">Ag<tspan dy="3.5" font-size="9.5">4</tspan><tspan dy="-3.5">O</tspan><tspan dy="3.5" font-size="9.5">2</tspan></text>
<text x="498.6" y="564.4" font-size="15.9" font-weight="bold" fill="#68a7c1" text-anchor="start" >Ag-O/GDL</text>
<text transform="translate(484,430.6) rotate(-90)" font-size="18.5" font-weight="bold" text-anchor="middle">Intensity<tspan dx="9">(a.u.)</tspan></text>
<line x1="663.1" y1="355" x2="663.1" y2="519" stroke="#aaa" stroke-width="1.5"/>
<path d="M663.1,347 L660.5,356.5 L665.7,356.5 Z" fill="#808080"/>
<text x="645.1" y="336.2" font-size="14" font-weight="bold" fill="#c5525a" text-anchor="start" >1.75 V</text>
<text x="645" y="540.4" font-size="14" font-weight="bold" fill="#4f9ab6" text-anchor="start" >0.25 V</text>

<text x="0" y="16.5" font-size="22" font-weight="bold" fill="#000" text-anchor="start" >a</text>
<rect x="57.7" y="11.1" width="256.2" height="188.1" fill="none" stroke="#222" stroke-width="1.2"/>
<line x1="57.70" y1="199.2" x2="57.70" y2="203.2" stroke="#222" stroke-width="1.1"/>
<text x="57.70" y="214.4" font-size="10.3" font-weight="bold" fill="#000" text-anchor="middle" >1.0</text>
<line x1="89.70" y1="199.2" x2="89.70" y2="201.7" stroke="#222" stroke-width="1.1"/>
<line x1="121.70" y1="199.2" x2="121.70" y2="203.2" stroke="#222" stroke-width="1.1"/>
<text x="121.70" y="214.4" font-size="10.3" font-weight="bold" fill="#000" text-anchor="middle" >1.2</text>
<line x1="153.70" y1="199.2" x2="153.70" y2="201.7" stroke="#222" stroke-width="1.1"/>
<line x1="185.70" y1="199.2" x2="185.70" y2="203.2" stroke="#222" stroke-width="1.1"/>
<text x="185.70" y="214.4" font-size="10.3" font-weight="bold" fill="#000" text-anchor="middle" >1.4</text>
<line x1="217.70" y1="199.2" x2="217.70" y2="201.7" stroke="#222" stroke-width="1.1"/>
<line x1="249.70" y1="199.2" x2="249.70" y2="203.2" stroke="#222" stroke-width="1.1"/>
<text x="249.70" y="214.4" font-size="10.3" font-weight="bold" fill="#000" text-anchor="middle" >1.6</text>
<line x1="281.70" y1="199.2" x2="281.70" y2="201.7" stroke="#222" stroke-width="1.1"/>
<line x1="313.70" y1="199.2" x2="313.70" y2="203.2" stroke="#222" stroke-width="1.1"/>
<text x="313.70" y="214.4" font-size="10.3" font-weight="bold" fill="#000" text-anchor="middle" >1.8</text>
<line x1="54.2" y1="191.30" x2="57.7" y2="191.30" stroke="#222" stroke-width="1.1"/>
<text x="51.2" y="194.70" font-size="10.3" font-weight="bold" fill="#000" text-anchor="end" >0</text>
<line x1="55.7" y1="175.60" x2="57.7" y2="175.60" stroke="#222" stroke-width="1.1"/>
<line x1="54.2" y1="159.90" x2="57.7" y2="159.90" stroke="#222" stroke-width="1.1"/>
<text x="51.2" y="163.30" font-size="10.3" font-weight="bold" fill="#000" text-anchor="end" >2</text>
<line x1="55.7" y1="144.20" x2="57.7" y2="144.20" stroke="#222" stroke-width="1.1"/>
<line x1="54.2" y1="128.50" x2="57.7" y2="128.50" stroke="#222" stroke-width="1.1"/>
<text x="51.2" y="131.90" font-size="10.3" font-weight="bold" fill="#000" text-anchor="end" >4</text>
<line x1="55.7" y1="112.80" x2="57.7" y2="112.80" stroke="#222" stroke-width="1.1"/>
<line x1="54.2" y1="97.10" x2="57.7" y2="97.10" stroke="#222" stroke-width="1.1"/>
<text x="51.2" y="100.50" font-size="10.3" font-weight="bold" fill="#000" text-anchor="end" >6</text>
<line x1="55.7" y1="81.40" x2="57.7" y2="81.40" stroke="#222" stroke-width="1.1"/>
<line x1="54.2" y1="65.70" x2="57.7" y2="65.70" stroke="#222" stroke-width="1.1"/>
<text x="51.2" y="69.10" font-size="10.3" font-weight="bold" fill="#000" text-anchor="end" >8</text>
<line x1="55.7" y1="50.00" x2="57.7" y2="50.00" stroke="#222" stroke-width="1.1"/>
<line x1="54.2" y1="34.30" x2="57.7" y2="34.30" stroke="#222" stroke-width="1.1"/>
<text x="51.2" y="37.70" font-size="10.3" font-weight="bold" fill="#000" text-anchor="end" >10</text>
<line x1="55.7" y1="18.60" x2="57.7" y2="18.60" stroke="#222" stroke-width="1.1"/>
<text x="180.5" y="230.8" font-size="13.3" font-weight="bold" fill="#000" text-anchor="middle" >E (V vs. Ag/AgCl)</text>
<text transform="translate(35,105) rotate(-90)" x="0" y="0" font-size="13.4" font-weight="bold" text-anchor="middle">Current density (mA/cm<tspan dy="-5" font-size="9">2</tspan><tspan dy="5">)</tspan></text>
<line x1="57.7" y1="144.2" x2="313.9" y2="144.2" stroke="#333" stroke-width="1" stroke-dasharray="2,1.6"/>
<path d="M57.70,190.60 L58.20,190.59 L58.70,190.59 L59.20,190.58 L59.70,190.57 L60.20,190.56 L60.70,190.56 L61.20,190.55 L61.70,190.54 L62.20,190.54 L62.70,190.53 L63.20,190.52 L63.70,190.51 L64.20,190.51 L64.70,190.50 L65.20,190.49 L65.70,190.49 L66.20,190.48 L66.70,190.47 L67.20,190.47 L67.70,190.46 L68.20,190.45 L68.70,190.44 L69.20,190.44 L69.70,190.43 L70.20,190.42 L70.70,190.42 L71.20,190.41 L71.70,190.40 L72.20,190.39 L72.70,190.39 L73.20,190.38 L73.70,190.37 L74.20,190.37 L74.70,190.36 L75.20,190.35 L75.70,190.34 L76.20,190.34 L76.70,190.33 L77.20,190.32 L77.70,190.32 L78.20,190.31 L78.70,190.30 L79.20,190.30 L79.70,190.29 L80.20,190.28 L80.70,190.27 L81.20,190.27 L81.70,190.26 L82.20,190.25 L82.70,190.25 L83.20,190.24 L83.70,190.23 L84.20,190.22 L84.70,190.22 L85.20,190.21 L85.70,190.20 L86.20,190.20 L86.70,190.19 L87.20,190.18 L87.70,190.17 L88.20,190.17 L88.70,190.16 L89.20,190.15 L89.70,190.15 L90.20,190.14 L90.70,190.13 L91.20,190.12 L91.70,190.12 L92.20,190.11 L92.70,190.10 L93.20,190.10 L93.70,190.09 L94.20,190.08 L94.70,190.08 L95.20,190.07 L95.70,190.06 L96.20,190.05 L96.70,190.05 L97.20,190.04 L97.70,190.03 L98.20,190.03 L98.70,190.02 L99.20,190.01 L99.70,190.00 L100.20,189.99 L100.70,189.98 L101.20,189.97 L101.70,189.95 L102.20,189.94 L102.70,189.93 L103.20,189.91 L103.70,189.90 L104.20,189.89 L104.70,189.87 L105.20,189.86 L105.70,189.85 L106.20,189.83 L106.70,189.82 L107.20,189.81 L107.70,189.79 L108.20,189.78 L108.70,189.77 L109.20,189.75 L109.70,189.74 L110.20,189.73 L110.70,189.71 L111.20,189.70 L111.70,189.69 L112.20,189.67 L112.70,189.66 L113.20,189.65 L113.70,189.63 L114.20,189.62 L114.70,189.61 L115.20,189.59 L115.70,189.58 L116.20,189.57 L116.70,189.55 L117.20,189.54 L117.70,189.53 L118.20,189.51 L118.70,189.50 L119.20,189.49 L119.70,189.47 L120.20,189.46 L120.70,189.45 L121.20,189.43 L121.70,189.42 L122.20,189.41 L122.70,189.39 L123.20,189.38 L123.70,189.37 L124.20,189.35 L124.70,189.34 L125.20,189.33 L125.70,189.31 L126.20,189.30 L126.70,189.29 L127.20,189.27 L127.70,189.26 L128.20,189.25 L128.70,189.23 L129.20,189.22 L129.70,189.21 L130.20,189.18 L130.70,189.14 L131.20,189.10 L131.70,189.05 L132.20,189.01 L132.70,188.97 L133.20,188.93 L133.70,188.88 L134.20,188.84 L134.70,188.80 L135.20,188.75 L135.70,188.71 L136.20,188.67 L136.70,188.63 L137.00,188.60 L137.50,188.12 L138.00,187.64 L138.50,187.15 L139.00,186.65 L139.50,186.15 L140.00,185.65 L140.50,185.14 L141.00,184.62 L141.50,184.10 L142.00,183.57 L142.50,183.03 L143.00,182.49 L143.50,181.95 L144.00,181.40 L144.50,180.85 L145.00,180.29 L145.50,179.72 L146.00,179.16 L146.50,178.58 L147.00,178.00 L147.50,177.42 L148.00,176.83 L148.50,176.24 L149.00,175.65 L149.50,175.05 L150.00,174.45 L150.50,173.84 L151.00,173.23 L151.50,172.61 L152.00,171.99 L152.50,171.37 L153.00,170.75 L153.50,170.12 L154.00,169.48 L154.50,168.85 L155.00,168.21 L155.50,167.57 L156.00,166.92 L156.50,166.27 L157.00,165.62 L157.50,164.97 L158.00,164.31 L158.50,163.66 L159.00,162.99 L159.50,162.33 L160.00,161.66 L160.50,161.00 L161.00,160.33 L161.50,159.65 L162.00,158.98 L162.50,158.30 L163.00,157.63 L163.50,156.95 L164.00,156.27 L164.50,155.58 L165.00,154.90 L165.50,154.21 L166.00,153.53 L166.50,152.84 L167.00,152.15 L167.50,151.46 L168.00,150.77 L168.50,150.08 L169.00,149.39 L169.50,148.70 L170.00,148.00 L170.50,147.31 L171.00,146.61 L171.50,145.92 L172.00,145.23 L172.50,144.53 L173.00,143.84 L173.50,143.14 L174.00,142.45 L174.50,141.75 L175.00,141.06 L175.50,140.37 L176.00,139.67 L176.50,138.98 L177.00,138.29 L177.50,137.60 L178.00,136.91 L178.50,136.22 L179.00,135.53 L179.50,134.85 L180.00,134.16 L180.50,133.48 L181.00,132.80 L181.50,132.11 L182.00,131.44 L182.50,130.76 L183.00,130.08 L183.50,129.41 L184.00,128.74 L184.50,128.07 L185.00,127.40 L185.50,126.74 L186.00,126.08 L186.50,125.42 L187.00,124.76 L187.50,124.10 L188.00,123.45 L188.50,122.80 L189.00,122.16 L189.50,121.52 L190.00,120.88 L190.50,120.24 L191.00,119.61 L191.50,118.98 L192.00,118.35 L192.50,117.73 L193.00,117.11 L193.50,116.50 L194.00,115.89 L194.50,115.28 L195.00,114.68 L195.50,114.08 L196.00,113.48 L196.50,112.89 L197.00,112.30 L197.50,111.71 L198.00,111.13 L198.50,110.56 L199.00,109.98 L199.50,109.41 L200.00,108.85 L200.50,108.29 L201.00,107.73 L201.50,107.17 L202.00,106.63 L202.50,106.08 L203.00,105.54 L203.50,105.00 L204.00,104.47 L204.50,103.94 L205.00,103.41 L205.50,102.89 L206.00,102.37 L206.50,101.86 L207.00,101.35 L207.50,100.85 L208.00,100.35 L208.50,99.85 L209.00,99.36 L209.50,98.88 L210.00,98.39 L210.50,97.92 L211.00,97.44 L211.50,96.97 L212.00,96.51 L212.50,96.05 L213.00,95.59 L213.50,95.14 L214.00,94.70 L214.50,94.25 L215.00,93.82 L215.50,93.38 L216.00,92.95 L216.50,92.53 L217.00,92.11 L217.50,91.70 L218.00,91.29 L218.50,90.88 L219.00,90.48 L219.50,90.09 L220.00,89.69 L220.50,89.30 L221.00,88.92 L221.50,88.54 L222.00,88.16 L222.50,87.79 L223.00,87.42 L223.50,87.05 L224.00,86.69 L224.50,86.33 L225.00,85.98 L225.50,85.62 L226.00,85.27 L226.50,84.93 L227.00,84.58 L227.50,84.24 L228.00,83.91 L228.50,83.57 L229.00,83.24 L229.50,82.91 L230.00,82.58 L230.50,82.26 L231.00,81.93 L231.50,81.61 L232.00,81.29 L232.50,80.98 L233.00,80.66 L233.50,80.35 L234.00,80.04 L234.50,79.73 L235.00,79.42 L235.50,79.12 L236.00,78.81 L236.50,78.51 L237.00,78.20 L237.50,77.90 L238.00,77.60 L238.50,77.30 L239.00,77.01 L239.50,76.71 L240.00,76.41 L240.50,76.12 L241.00,75.82 L241.50,75.53 L242.00,75.23 L242.50,74.94 L243.00,74.64 L243.50,74.35 L244.00,74.06 L244.50,73.76 L245.00,73.47 L245.50,73.17 L246.00,72.88 L246.50,72.58 L247.00,72.29 L247.50,71.99 L248.00,71.70 L248.50,71.40 L249.00,71.10 L249.50,70.80 L250.00,70.50 L250.50,70.20 L251.00,69.90 L251.50,69.60 L252.00,69.29 L252.50,68.99 L253.00,68.68 L253.50,68.37 L254.00,68.06 L254.50,67.75 L255.00,67.43 L255.50,67.11 L256.00,66.80 L256.50,66.48 L257.00,66.15 L257.50,65.83 L258.00,65.50 L258.50,65.17 L259.00,64.84 L259.50,64.50 L260.00,64.17 L260.50,63.83 L261.00,63.48 L261.50,63.14 L262.00,62.79 L262.50,62.44 L263.00,62.08 L263.50,61.72 L264.00,61.36 L264.50,60.99 L265.00,60.63 L265.50,60.25 L266.00,59.88 L266.50,59.50 L267.00,59.11 L267.50,58.72 L268.00,58.33 L268.50,57.94 L269.00,57.53 L269.50,57.13 L270.00,56.72 L270.50,56.31 L271.00,55.89 L271.50,55.47 L272.00,55.04 L272.50,54.61 L273.00,54.17 L273.50,53.73 L274.00,53.28 L274.50,52.83 L275.00,52.37 L275.50,51.90 L276.00,51.44 L276.50,50.96 L277.00,50.48 L277.50,50.00 L278.00,49.50 L278.50,49.01 L279.00,48.50 L279.50,47.99 L280.00,47.48 L280.50,46.96 L281.00,46.43 L281.50,45.90 L282.00,45.36 L282.50,44.81 L283.00,44.25 L283.50,43.69 L284.00,43.13 L284.50,42.55 L285.00,41.97 L285.50,41.38 L286.00,40.79 L286.50,40.19 L287.00,39.58 L287.50,38.96 L288.00,38.33 L288.50,37.70 L289.00,37.06 L289.50,36.41 L290.00,35.76 L290.50,35.09 L291.00,34.42 L291.50,33.74 L292.00,33.06 L292.50,32.36 L293.00,31.66 L293.50,30.94 L294.00,30.22 L294.50,29.49 L295.00,28.75 L295.50,28.01 L296.00,27.25 L296.50,26.49 L297.00,25.71 L297.50,24.93 L298.00,24.14 L298.50,23.33 L299.00,22.52 L299.50,21.70 L300.00,20.87 L300.50,20.03 L301.00,19.18 L301.50,18.32 L302.00,17.46 L302.50,16.58 L303.00,15.69 L303.50,14.79 L304.00,13.88 L304.50,12.96 L305.00,12.03 L305.50,11.09" fill="none" stroke="#c5535a" stroke-width="2.6" stroke-linejoin="round"/>
<path d="M57.70,191.30 L58.20,191.30 L58.70,191.29 L59.20,191.29 L59.70,191.29 L60.20,191.28 L60.70,191.28 L61.20,191.28 L61.70,191.27 L62.20,191.27 L62.70,191.26 L63.20,191.26 L63.70,191.26 L64.20,191.25 L64.70,191.25 L65.20,191.25 L65.70,191.24 L66.20,191.24 L66.70,191.24 L67.20,191.23 L67.70,191.23 L68.20,191.23 L68.70,191.22 L69.20,191.22 L69.70,191.21 L70.20,191.21 L70.70,191.21 L71.20,191.20 L71.70,191.20 L72.20,191.20 L72.70,191.19 L73.20,191.19 L73.70,191.19 L74.20,191.18 L74.70,191.18 L75.20,191.18 L75.70,191.17 L76.20,191.17 L76.70,191.17 L77.20,191.16 L77.70,191.16 L78.20,191.15 L78.70,191.15 L79.20,191.15 L79.70,191.14 L80.20,191.14 L80.70,191.14 L81.20,191.13 L81.70,191.13 L82.20,191.13 L82.70,191.12 L83.20,191.12 L83.70,191.12 L84.20,191.11 L84.70,191.11 L85.20,191.10 L85.70,191.10 L86.20,191.10 L86.70,191.09 L87.20,191.09 L87.70,191.09 L88.20,191.08 L88.70,191.08 L89.20,191.08 L89.70,191.07 L90.20,191.07 L90.70,191.07 L91.20,191.06 L91.70,191.06 L92.20,191.06 L92.70,191.05 L93.20,191.05 L93.70,191.04 L94.20,191.04 L94.70,191.04 L95.20,191.03 L95.70,191.03 L96.20,191.03 L96.70,191.02 L97.20,191.02 L97.70,191.02 L98.20,191.01 L98.70,191.01 L99.20,191.01 L99.70,191.00 L100.20,191.00 L100.70,190.99 L101.20,190.99 L101.70,190.98 L102.20,190.98 L102.70,190.97 L103.20,190.97 L103.70,190.96 L104.20,190.96 L104.70,190.95 L105.20,190.95 L105.70,190.94 L106.20,190.94 L106.70,190.93 L107.20,190.93 L107.70,190.92 L108.20,190.92 L108.70,190.91 L109.20,190.91 L109.70,190.90 L110.20,190.90 L110.70,190.89 L111.20,190.89 L111.70,190.88 L112.20,190.88 L112.70,190.87 L113.20,190.87 L113.70,190.86 L114.20,190.86 L114.70,190.85 L115.20,190.85 L115.70,190.84 L116.20,190.84 L116.70,190.83 L117.20,190.83 L117.70,190.82 L118.20,190.82 L118.70,190.81 L119.20,190.81 L119.70,190.80 L120.20,190.80 L120.70,190.79 L121.20,190.78 L121.70,190.77 L122.20,190.76 L122.70,190.75 L123.20,190.74 L123.70,190.73 L124.20,190.72 L124.70,190.71 L125.20,190.70 L125.70,190.69 L126.20,190.68 L126.70,190.67 L127.20,190.66 L127.70,190.65 L128.20,190.64 L128.70,190.63 L129.20,190.62 L129.70,190.61 L130.20,190.60 L130.70,190.59 L131.20,190.58 L131.70,190.57 L132.20,190.56 L132.70,190.55 L133.20,190.54 L133.70,190.53 L134.20,190.52 L134.70,190.51 L135.20,190.50 L135.70,190.49 L136.20,190.48 L136.70,190.47 L137.20,190.46 L137.70,190.45 L138.20,190.44 L138.70,190.43 L139.20,190.42 L139.70,190.41 L140.20,190.61 L140.70,190.63 L141.20,190.64 L141.70,190.64 L142.20,190.65 L142.70,190.64 L143.20,190.64 L143.70,190.62 L144.20,190.61 L144.70,190.58 L145.20,190.55 L145.70,190.52 L146.20,190.48 L146.70,190.43 L147.20,190.37 L147.70,190.31 L148.20,190.25 L148.70,190.17 L149.20,190.09 L149.70,190.00 L150.20,189.90 L150.70,189.79 L151.20,189.68 L151.70,189.56 L152.20,189.42 L152.70,189.28 L153.20,189.12 L153.70,188.95 L154.20,188.77 L154.70,188.58 L155.20,188.37 L155.70,188.15 L156.20,187.92 L156.70,187.67 L157.20,187.40 L157.70,187.12 L158.20,186.82 L158.70,186.50 L159.20,186.16 L159.70,185.80 L160.20,185.43 L160.70,185.03 L161.20,184.62 L161.70,184.19 L162.20,183.74 L162.70,183.28 L163.20,182.80 L163.70,182.31 L164.20,181.81 L164.70,181.30 L165.20,180.78 L165.70,180.26 L166.20,179.72 L166.70,179.18 L167.20,178.63 L167.70,178.08 L168.20,177.53 L168.70,176.97 L169.20,176.42 L169.70,175.85 L170.20,175.29 L170.70,174.72 L171.20,174.15 L171.70,173.58 L172.20,173.00 L172.70,172.43 L173.20,171.85 L173.70,171.26 L174.20,170.68 L174.70,170.09 L175.20,169.50 L175.70,168.91 L176.20,168.31 L176.70,167.72 L177.20,167.12 L177.70,166.52 L178.20,165.91 L178.70,165.31 L179.20,164.70 L179.70,164.09 L180.20,163.48 L180.70,162.87 L181.20,162.25 L181.70,161.64 L182.20,161.02 L182.70,160.40 L183.20,159.78 L183.70,159.16 L184.20,158.53 L184.70,157.91 L185.20,157.28 L185.70,156.65 L186.20,156.02 L186.70,155.39 L187.20,154.76 L187.70,154.13 L188.20,153.49 L188.70,152.86 L189.20,152.22 L189.70,151.58 L190.20,150.94 L190.70,150.31 L191.20,149.67 L191.70,149.02 L192.20,148.38 L192.70,147.74 L193.20,147.10 L193.70,146.45 L194.20,145.81 L194.70,145.17 L195.20,144.52 L195.70,143.88 L196.20,143.23 L196.70,142.58 L197.20,141.94 L197.70,141.29 L198.20,140.64 L198.70,140.00 L199.20,139.35 L199.70,138.70 L200.20,138.06 L200.70,137.41 L201.20,136.76 L201.70,136.12 L202.20,135.47 L202.70,134.82 L203.20,134.18 L203.70,133.53 L204.20,132.89 L204.70,132.24 L205.20,131.60 L205.70,130.95 L206.20,130.31 L206.70,129.67 L207.20,129.03 L207.70,128.39 L208.20,127.75 L208.70,127.11 L209.20,126.47 L209.70,125.83 L210.20,125.19 L210.70,124.56 L211.20,123.92 L211.70,123.29 L212.20,122.66 L212.70,122.03 L213.20,121.40 L213.70,120.77 L214.20,120.14 L214.70,119.52 L215.20,118.89 L215.70,118.27 L216.20,117.65 L216.70,117.03 L217.20,116.41 L217.70,115.79 L218.20,115.18 L218.70,114.56 L219.20,113.95 L219.70,113.34 L220.20,112.74 L220.70,112.13 L221.20,111.53 L221.70,110.93 L222.20,110.33 L222.70,109.73 L223.20,109.14 L223.70,108.54 L224.20,107.95 L224.70,107.36 L225.20,106.78 L225.70,106.20 L226.20,105.61 L226.70,105.04 L227.20,104.46 L227.70,103.89 L228.20,103.32 L228.70,102.75 L229.20,102.19 L229.70,101.63 L230.20,101.07 L230.70,100.52 L231.20,99.97 L231.70,99.42 L232.20,98.88 L232.70,98.34 L233.20,97.80 L233.70,97.27 L234.20,96.74 L234.70,96.22 L235.20,95.70 L235.70,95.18 L236.20,94.67 L236.70,94.17 L237.20,93.66 L237.70,93.17 L238.20,92.68 L238.70,92.19 L239.20,91.71 L239.70,91.23 L240.20,90.76 L240.70,90.29 L241.20,89.83 L241.70,89.37 L242.20,88.92 L242.70,88.48 L243.20,88.04 L243.70,87.61 L244.20,87.18 L244.70,86.76 L245.20,86.35 L245.70,85.94 L246.20,85.54 L246.70,85.14 L247.20,84.75 L247.70,84.37 L248.20,83.99 L248.70,83.62 L249.20,83.26 L249.70,82.91 L250.20,82.56 L250.70,82.22 L251.20,81.89 L251.70,81.56 L252.20,81.24 L252.70,80.93 L253.20,80.63 L253.70,80.33 L254.20,80.05 L254.70,79.77 L255.20,79.49 L255.70,79.23 L256.20,78.98 L256.70,78.73 L257.20,78.49 L257.70,78.26 L258.20,78.04 L258.70,77.83 L259.20,77.63 L259.70,77.43 L260.20,77.25 L260.70,77.07 L261.20,76.90 L261.70,76.75 L262.20,76.60 L262.70,76.46 L263.20,76.33 L263.70,76.21 L264.20,76.10 L264.70,76.00 L265.20,75.91 L265.70,75.83 L266.20,75.76 L266.70,75.70 L267.20,75.65 L267.70,75.61 L268.20,75.57 L268.70,75.54 L269.20,75.51 L269.70,75.48 L270.20,75.45 L270.70,75.42 L271.20,75.39 L271.70,75.36 L272.20,75.32 L272.70,75.28 L273.20,75.23 L273.70,75.17 L274.20,75.10 L274.70,75.03 L275.20,74.94 L275.70,74.83 L276.20,74.71 L276.70,74.58 L277.20,74.43 L277.70,74.27 L278.20,74.09 L278.70,73.90 L279.20,73.69 L279.70,73.48 L280.20,73.25 L280.70,73.01 L281.20,72.75 L281.70,72.49 L282.20,72.21 L282.70,71.93 L283.20,71.63 L283.70,71.33 L284.20,71.01 L284.70,70.69 L285.20,70.36 L285.70,70.02 L286.20,69.67 L286.70,69.32 L287.20,68.96 L287.70,68.59 L288.20,68.22 L288.70,67.84 L289.20,67.45 L289.70,67.06 L290.20,66.66 L290.70,66.25 L291.20,65.84 L291.70,65.42 L292.20,64.99 L292.70,64.56 L293.20,64.13 L293.70,63.68 L294.20,63.23 L294.70,62.78 L295.20,62.32 L295.70,61.85 L296.20,61.38 L296.70,60.91 L297.20,60.43 L297.70,59.94 L298.20,59.45 L298.70,58.95 L299.20,58.45 L299.70,57.94 L300.20,57.43 L300.70,56.91 L301.20,56.39 L301.70,55.86 L302.20,55.33 L302.70,54.79 L303.20,54.25 L303.70,53.71 L304.20,53.16 L304.70,52.60 L305.20,52.05 L305.70,51.49 L306.20,50.92 L306.70,50.35 L307.20,49.78 L307.70,49.20 L308.20,48.62 L308.70,48.03 L309.20,47.45 L309.70,46.85 L310.20,46.26 L310.70,45.66 L311.20,45.06 L311.70,44.45 L312.20,43.84 L312.70,43.23 L313.20,42.62 L313.70,42.00" fill="none" stroke="#559cb6" stroke-width="2.6" stroke-linejoin="round"/>
<line x1="66.3" y1="27.4" x2="90" y2="27.4" stroke="#c5535a" stroke-width="2.7"/>
<line x1="66.3" y1="44.4" x2="90" y2="44.4" stroke="#559cb6" stroke-width="2.7"/>
<text x="92.8" y="30.6" font-size="13.3" font-weight="bold" fill="#c5535a" text-anchor="start" >Ag-V-O/GDL</text>
<text x="93.8" y="47.8" font-size="13.3" font-weight="bold" fill="#559cb6" text-anchor="start" >Ag-O/GDL</text>
<text x="137.9" y="125.6" font-size="11.3" font-weight="bold" fill="#c5535a" text-anchor="start" >1.36 V</text>
<text x="211.8" y="167.7" font-size="11.3" font-weight="bold" fill="#559cb6" text-anchor="start" >1.43V</text>
<text x="261.0" y="140.3" font-size="10.6" fill="#111">3 mA/cm<tspan dy="-4.6" font-size="7.6">2</tspan></text>
<line x1="162.20" y1="129.00" x2="169.81" y2="138.05" stroke="#666" stroke-width="1"/>
<path d="M172.70,141.50 L168.12,139.47 L171.49,136.64 Z" fill="#666"/>
<line x1="209.50" y1="158.60" x2="203.16" y2="150.88" stroke="#666" stroke-width="1"/>
<path d="M200.30,147.40 L204.86,149.48 L201.46,152.27 Z" fill="#666"/>
<text x="340" y="16.5" font-size="23" font-weight="bold" fill="#000" text-anchor="start" >b</text>
<line x1="392.6" y1="10.8" x2="630.9" y2="10.8" stroke="#333" stroke-width="1.3"/>
<line x1="392.6" y1="10.8" x2="392.6" y2="203.3" stroke="#111" stroke-width="1.2"/>
<line x1="630.9" y1="10.8" x2="630.9" y2="203.3" stroke="#444" stroke-width="1.2"/>
<line x1="392.6" y1="203.3" x2="630.9" y2="203.3" stroke="#111" stroke-width="1.2"/>
<line x1="389.1" y1="203.30" x2="392.6" y2="203.30" stroke="#111" stroke-width="1.1"/>
<text x="386.2" y="206.70" font-size="10.3" font-weight="bold" fill="#000" text-anchor="end" >0</text>
<line x1="390.6" y1="179.24" x2="392.6" y2="179.24" stroke="#111" stroke-width="1.1"/>
<line x1="389.1" y1="155.18" x2="392.6" y2="155.18" stroke="#111" stroke-width="1.1"/>
<text x="386.2" y="158.58" font-size="10.3" font-weight="bold" fill="#000" text-anchor="end" >5</text>
<line x1="390.6" y1="131.11" x2="392.6" y2="131.11" stroke="#111" stroke-width="1.1"/>
<line x1="389.1" y1="107.05" x2="392.6" y2="107.05" stroke="#111" stroke-width="1.1"/>
<text x="386.2" y="110.45" font-size="10.3" font-weight="bold" fill="#000" text-anchor="end" >10</text>
<line x1="390.6" y1="82.99" x2="392.6" y2="82.99" stroke="#111" stroke-width="1.1"/>
<line x1="389.1" y1="58.93" x2="392.6" y2="58.93" stroke="#111" stroke-width="1.1"/>
<text x="386.2" y="62.33" font-size="10.3" font-weight="bold" fill="#000" text-anchor="end" >15</text>
<line x1="390.6" y1="34.86" x2="392.6" y2="34.86" stroke="#111" stroke-width="1.1"/>
<line x1="389.1" y1="10.80" x2="392.6" y2="10.80" stroke="#111" stroke-width="1.1"/>
<text x="386.2" y="14.20" font-size="10.3" font-weight="bold" fill="#000" text-anchor="end" >20</text>
<line x1="630.9" y1="203.30" x2="633.9" y2="203.30" stroke="#444" stroke-width="1.1"/>
<text x="637.2" y="207.50" font-size="10.3" font-weight="bold" fill="#000" text-anchor="start" >0</text>
<line x1="630.9" y1="171.22" x2="632.9" y2="171.22" stroke="#444" stroke-width="1.1"/>
<line x1="630.9" y1="139.13" x2="633.9" y2="139.13" stroke="#444" stroke-width="1.1"/>
<text x="637.2" y="143.33" font-size="10.3" font-weight="bold" fill="#000" text-anchor="start" >5</text>
<line x1="630.9" y1="107.05" x2="632.9" y2="107.05" stroke="#444" stroke-width="1.1"/>
<line x1="630.9" y1="74.97" x2="633.9" y2="74.97" stroke="#444" stroke-width="1.1"/>
<text x="637.2" y="79.17" font-size="10.3" font-weight="bold" fill="#000" text-anchor="start" >10</text>
<line x1="630.9" y1="42.88" x2="632.9" y2="42.88" stroke="#444" stroke-width="1.1"/>
<line x1="630.9" y1="10.80" x2="633.9" y2="10.80" stroke="#444" stroke-width="1.1"/>
<text x="637.2" y="15.00" font-size="10.3" font-weight="bold" fill="#000" text-anchor="start" >15</text>
<line x1="452" y1="203.3" x2="452" y2="206.3" stroke="#111" stroke-width="1.1"/>
<line x1="571.2" y1="203.3" x2="571.2" y2="206.3" stroke="#111" stroke-width="1.1"/>
<line x1="511.5" y1="203.3" x2="511.5" y2="205.10000000000002" stroke="#111" stroke-width="1.1"/>
<text transform="translate(367,108.5) rotate(-90)" font-size="13.4" font-weight="bold" text-anchor="middle">PO Faradaic efficiency (%)</text>
<text transform="translate(662,107.2) rotate(-90)" font-size="13.4" font-weight="bold" text-anchor="middle">PO production (μmol/h)</text>
<defs><pattern id="hb" patternUnits="userSpaceOnUse" width="2.33" height="2.33" patternTransform="rotate(-45)"><rect x="0" y="0" width="2.33" height="0.95" fill="#5a9fba"/></pattern><pattern id="hr" patternUnits="userSpaceOnUse" width="2.33" height="2.33" patternTransform="rotate(-45)"><rect x="0" y="0" width="2.33" height="0.95" fill="#c9585f"/></pattern></defs>
<rect x="427.7" y="126.9" width="48.6" height="76.4" fill="url(#hb)" stroke="#5a9fba" stroke-width="1.0"/>
<rect x="547.2" y="72.4" width="48.5" height="130.9" fill="url(#hr)" stroke="#c9585f" stroke-width="1.0"/>
<path d="M449.5,123.3 H454.5 M452,123.3 V130.4 M449.5,130.4 H454.5" stroke="#777" stroke-width="1.2" fill="none"/>
<path d="M568.7,67 H573.7 M571.2,67 V77.4 M568.7,77.4 H573.7" stroke="#777" stroke-width="1.2" fill="none"/>
<line x1="458.5" y1="96.6" x2="566" y2="31" stroke="#333" stroke-width="1.1" stroke-dasharray="1.3,1.7"/>
<circle cx="452" cy="100.9" r="6.3" fill="#4f9bb8"/>
<path d="M449.5,98.6 H454.5 M452,98.6 V103.6 M449.5,103.6 H454.5" stroke="#777" stroke-width="1.2" fill="none"/>
<path d="M571.20,19.90 L573.14,25.13 L578.71,25.36 L574.34,28.82 L575.84,34.19 L571.20,31.10 L566.56,34.19 L568.06,28.82 L563.69,25.36 L569.26,25.13 Z" fill="#be5158"/>
<path d="M568.7,24 H573.7 M571.2,24 V30.8 M568.7,30.8 H573.7" stroke="#777" stroke-width="1.2" fill="none"/>
<line x1="438.40" y1="101.40" x2="418.00" y2="101.40" stroke="#222" stroke-width="1.1"/>
<path d="M413.00,101.40 L418.00,99.40 L418.00,103.40 Z" fill="#222"/>
<line x1="598.50" y1="94.60" x2="623.00" y2="94.60" stroke="#222" stroke-width="1.1"/>
<path d="M628.00,94.60 L623.00,96.60 L623.00,92.60 Z" fill="#222"/>
<text x="452.9" y="217.9" font-size="13.6" font-weight="bold" fill="#5a9fba" text-anchor="middle" >Ag-O/GDL</text>
<text x="573.5" y="217.9" font-size="13.6" font-weight="bold" fill="#c9585f" text-anchor="middle" >Ag-V-O/GDL</text>

</svg>
</body></html>
